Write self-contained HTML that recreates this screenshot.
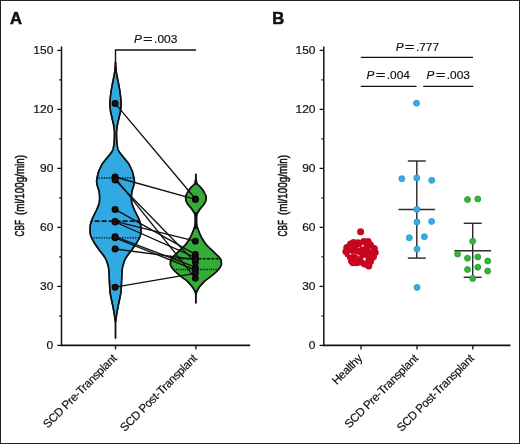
<!DOCTYPE html>
<html><head><meta charset="utf-8"><style>
html,body{margin:0;padding:0;background:#fff;}
svg{display:block;will-change:transform;}
text{font-family:"Liberation Sans",sans-serif;fill:#111;stroke:#111;stroke-width:0.18px;}
</style></head><body>
<svg width="520" height="444" viewBox="0 0 520 444">
<rect x="0" y="0" width="520" height="444" fill="#fff"/>
<rect x="0" y="0" width="520" height="1" fill="#222"/>
<rect x="0" y="443" width="520" height="1" fill="#222"/>
<rect x="0" y="0" width="1" height="444" fill="#222"/>
<rect x="519" y="0" width="1" height="444" fill="#222"/>
<text x="9.9" y="23.8" font-size="16.6" font-weight="bold" style="stroke-width:0.55px">A</text>
<text x="272.3" y="23.8" font-size="16.6" font-weight="bold" style="stroke-width:0.55px">B</text>
<line x1="61.50" y1="46.5" x2="61.50" y2="345.8" stroke="#111" stroke-width="1.5"/>
<line x1="57.30" y1="345.40" x2="61.50" y2="345.40" stroke="#111" stroke-width="1.3"/>
<text transform="translate(53.30,349.30) scale(1.09,1)" font-size="11" text-anchor="end">0</text>
<line x1="57.30" y1="286.40" x2="61.50" y2="286.40" stroke="#111" stroke-width="1.3"/>
<text transform="translate(53.30,290.30) scale(1.09,1)" font-size="11" text-anchor="end">30</text>
<line x1="57.30" y1="227.40" x2="61.50" y2="227.40" stroke="#111" stroke-width="1.3"/>
<text transform="translate(53.30,231.30) scale(1.09,1)" font-size="11" text-anchor="end">60</text>
<line x1="57.30" y1="168.40" x2="61.50" y2="168.40" stroke="#111" stroke-width="1.3"/>
<text transform="translate(53.30,172.30) scale(1.09,1)" font-size="11" text-anchor="end">90</text>
<line x1="57.30" y1="109.40" x2="61.50" y2="109.40" stroke="#111" stroke-width="1.3"/>
<text transform="translate(53.30,113.30) scale(1.09,1)" font-size="11" text-anchor="end">120</text>
<line x1="57.30" y1="50.40" x2="61.50" y2="50.40" stroke="#111" stroke-width="1.3"/>
<text transform="translate(53.30,54.30) scale(1.09,1)" font-size="11" text-anchor="end">150</text>
<line x1="59.00" y1="315.90" x2="61.50" y2="315.90" stroke="#111" stroke-width="1.1"/>
<line x1="59.00" y1="256.90" x2="61.50" y2="256.90" stroke="#111" stroke-width="1.1"/>
<line x1="59.00" y1="197.90" x2="61.50" y2="197.90" stroke="#111" stroke-width="1.1"/>
<line x1="59.00" y1="138.90" x2="61.50" y2="138.90" stroke="#111" stroke-width="1.1"/>
<line x1="59.00" y1="79.90" x2="61.50" y2="79.90" stroke="#111" stroke-width="1.1"/>
<line x1="323.80" y1="46.5" x2="323.80" y2="345.8" stroke="#111" stroke-width="1.5"/>
<line x1="319.60" y1="345.40" x2="323.80" y2="345.40" stroke="#111" stroke-width="1.3"/>
<text transform="translate(315.50,349.30) scale(1.09,1)" font-size="11" text-anchor="end">0</text>
<line x1="319.60" y1="286.40" x2="323.80" y2="286.40" stroke="#111" stroke-width="1.3"/>
<text transform="translate(315.50,290.30) scale(1.09,1)" font-size="11" text-anchor="end">30</text>
<line x1="319.60" y1="227.40" x2="323.80" y2="227.40" stroke="#111" stroke-width="1.3"/>
<text transform="translate(315.50,231.30) scale(1.09,1)" font-size="11" text-anchor="end">60</text>
<line x1="319.60" y1="168.40" x2="323.80" y2="168.40" stroke="#111" stroke-width="1.3"/>
<text transform="translate(315.50,172.30) scale(1.09,1)" font-size="11" text-anchor="end">90</text>
<line x1="319.60" y1="109.40" x2="323.80" y2="109.40" stroke="#111" stroke-width="1.3"/>
<text transform="translate(315.50,113.30) scale(1.09,1)" font-size="11" text-anchor="end">120</text>
<line x1="319.60" y1="50.40" x2="323.80" y2="50.40" stroke="#111" stroke-width="1.3"/>
<text transform="translate(315.50,54.30) scale(1.09,1)" font-size="11" text-anchor="end">150</text>
<line x1="321.30" y1="315.90" x2="323.80" y2="315.90" stroke="#111" stroke-width="1.1"/>
<line x1="321.30" y1="256.90" x2="323.80" y2="256.90" stroke="#111" stroke-width="1.1"/>
<line x1="321.30" y1="197.90" x2="323.80" y2="197.90" stroke="#111" stroke-width="1.1"/>
<line x1="321.30" y1="138.90" x2="323.80" y2="138.90" stroke="#111" stroke-width="1.1"/>
<line x1="321.30" y1="79.90" x2="323.80" y2="79.90" stroke="#111" stroke-width="1.1"/>
<line x1="60.7" y1="345.35" x2="250.2" y2="345.35" stroke="#111" stroke-width="1.7"/>
<line x1="323.0" y1="345.35" x2="510.5" y2="345.35" stroke="#111" stroke-width="1.7"/>
<line x1="115.50" y1="345" x2="115.50" y2="349.5" stroke="#111" stroke-width="1.3"/>
<line x1="195.90" y1="345" x2="195.90" y2="349.5" stroke="#111" stroke-width="1.3"/>
<line x1="361.00" y1="345" x2="361.00" y2="349.5" stroke="#111" stroke-width="1.3"/>
<line x1="417.00" y1="345" x2="417.00" y2="349.5" stroke="#111" stroke-width="1.3"/>
<line x1="472.80" y1="345" x2="472.80" y2="349.5" stroke="#111" stroke-width="1.3"/>
<g transform="translate(24.40,236.40) rotate(-90)" stroke="#111" stroke-width="0.4"><text x="0" y="0" font-size="13.5" textLength="16.3" lengthAdjust="spacingAndGlyphs" style="stroke-width:0.55px">CBF</text><text x="21.4" y="0" font-size="13.5" textLength="60.0" lengthAdjust="spacingAndGlyphs" style="stroke-width:0.55px">(ml/100g/min)</text></g>
<g transform="translate(286.80,236.40) rotate(-90)" stroke="#111" stroke-width="0.4"><text x="0" y="0" font-size="13.5" textLength="16.3" lengthAdjust="spacingAndGlyphs" style="stroke-width:0.55px">CBF</text><text x="21.4" y="0" font-size="13.5" textLength="60.0" lengthAdjust="spacingAndGlyphs" style="stroke-width:0.55px">(ml/100g/min)</text></g>
<text transform="translate(117.50,359.00) rotate(-45)" font-size="11.6" text-anchor="end" textLength="98.6" lengthAdjust="spacing">SCD Pre-Transplant</text>
<text transform="translate(197.90,359.00) rotate(-45)" font-size="11.6" text-anchor="end" textLength="103.5" lengthAdjust="spacing">SCD Post-Transplant</text>
<text transform="translate(363.00,359.00) rotate(-45)" font-size="11.6" text-anchor="end" textLength="37.3" lengthAdjust="spacing">Healthy</text>
<text transform="translate(419.00,359.00) rotate(-45)" font-size="11.6" text-anchor="end" textLength="98.6" lengthAdjust="spacing">SCD Pre-Transplant</text>
<text transform="translate(474.80,359.00) rotate(-45)" font-size="11.6" text-anchor="end" textLength="103.5" lengthAdjust="spacing">SCD Post-Transplant</text>
<polyline points="115.5,64 115.5,50.0 196,50.0" fill="none" stroke="#111" stroke-width="1.4"/>
<text x="133.90" y="42.50" font-size="11.7" font-style="italic">P</text><text transform="translate(147.80,42.50) scale(1.42,1)" font-size="11.7" text-anchor="middle">=</text><text transform="translate(154.10,42.50) scale(1.02,1)" font-size="11.7">.003</text>
<line x1="360.8" y1="57.4" x2="473" y2="57.4" stroke="#111" stroke-width="1.4"/>
<line x1="360.8" y1="86.4" x2="416.5" y2="86.4" stroke="#111" stroke-width="1.4"/>
<line x1="423.2" y1="86.4" x2="473.3" y2="86.4" stroke="#111" stroke-width="1.4"/>
<text x="395.70" y="50.50" font-size="11.7" font-style="italic">P</text><text transform="translate(409.60,50.50) scale(1.42,1)" font-size="11.7" text-anchor="middle">=</text><text transform="translate(415.90,50.50) scale(1.02,1)" font-size="11.7">.777</text>
<text x="366.60" y="79.10" font-size="11.7" font-style="italic">P</text><text transform="translate(380.50,79.10) scale(1.42,1)" font-size="11.7" text-anchor="middle">=</text><text transform="translate(386.80,79.10) scale(1.02,1)" font-size="11.7">.004</text>
<text x="426.60" y="79.10" font-size="11.7" font-style="italic">P</text><text transform="translate(440.50,79.10) scale(1.42,1)" font-size="11.7" text-anchor="middle">=</text><text transform="translate(446.80,79.10) scale(1.02,1)" font-size="11.7">.003</text>
<path d="M115.50,62.00 L115.53,62.50 L115.55,63.00 L115.58,63.50 L115.61,64.00 L115.65,64.50 L115.68,65.00 L115.71,65.50 L115.75,66.00 L115.79,66.50 L115.83,67.00 L115.87,67.50 L115.91,68.00 L115.95,68.50 L116.00,69.00 L116.05,69.50 L116.10,70.00 L116.16,70.50 L116.22,71.00 L116.28,71.50 L116.35,72.00 L116.42,72.50 L116.50,73.00 L116.57,73.50 L116.65,74.00 L116.73,74.50 L116.82,75.00 L116.90,75.50 L116.99,76.00 L117.09,76.50 L117.19,77.00 L117.29,77.50 L117.39,78.00 L117.49,78.50 L117.60,79.00 L117.70,79.50 L117.80,80.00 L117.90,80.50 L118.00,81.00 L118.10,81.50 L118.20,82.00 L118.31,82.50 L118.41,83.00 L118.51,83.50 L118.61,84.00 L118.70,84.50 L118.80,85.00 L118.90,85.50 L118.99,86.00 L119.09,86.50 L119.18,87.00 L119.27,87.50 L119.36,88.00 L119.45,88.50 L119.54,89.00 L119.62,89.50 L119.70,90.00 L119.78,90.50 L119.85,91.00 L119.93,91.50 L120.00,92.00 L120.07,92.50 L120.14,93.00 L120.21,93.50 L120.28,94.00 L120.34,94.50 L120.41,95.00 L120.46,95.50 L120.52,96.00 L120.57,96.50 L120.62,97.00 L120.67,97.50 L120.72,98.00 L120.77,98.50 L120.82,99.00 L120.87,99.50 L120.92,100.00 L120.96,100.50 L121.00,101.00 L121.03,101.50 L121.06,102.00 L121.08,102.50 L121.10,103.00 L121.10,103.50 L121.10,104.00 L121.08,104.50 L121.07,105.00 L121.04,105.50 L121.01,106.00 L120.97,106.50 L120.93,107.00 L120.89,107.50 L120.84,108.00 L120.79,108.50 L120.74,109.00 L120.69,109.50 L120.63,110.00 L120.58,110.50 L120.51,111.00 L120.43,111.50 L120.34,112.00 L120.25,112.50 L120.14,113.00 L120.03,113.50 L119.91,114.00 L119.79,114.50 L119.67,115.00 L119.55,115.50 L119.43,116.00 L119.31,116.50 L119.20,117.00 L119.09,117.50 L118.97,118.00 L118.85,118.50 L118.73,119.00 L118.61,119.50 L118.50,120.00 L118.39,120.50 L118.27,121.00 L118.16,121.50 L118.04,122.00 L117.92,122.50 L117.81,123.00 L117.70,123.50 L117.59,124.00 L117.48,124.50 L117.39,125.00 L117.30,125.50 L117.21,126.00 L117.14,126.50 L117.07,127.00 L117.01,127.50 L116.95,128.00 L116.89,128.50 L116.82,129.00 L116.77,129.50 L116.71,130.00 L116.66,130.50 L116.62,131.00 L116.58,131.50 L116.54,132.00 L116.52,132.50 L116.51,133.00 L116.50,133.50 L116.50,134.00 L116.51,134.50 L116.51,135.00 L116.52,135.50 L116.53,136.00 L116.55,136.50 L116.56,137.00 L116.58,137.50 L116.60,138.00 L116.62,138.50 L116.64,139.00 L116.66,139.50 L116.69,140.00 L116.71,140.50 L116.74,141.00 L116.78,141.50 L116.82,142.00 L116.87,142.50 L116.92,143.00 L116.98,143.50 L117.05,144.00 L117.11,144.50 L117.19,145.00 L117.26,145.50 L117.34,146.00 L117.42,146.50 L117.50,147.00 L117.59,147.50 L117.68,148.00 L117.78,148.50 L117.90,149.00 L118.04,149.50 L118.20,150.00 L118.41,150.50 L118.68,151.00 L119.00,151.50 L119.36,152.00 L119.73,152.50 L120.11,153.00 L120.47,153.50 L120.84,154.00 L121.23,154.50 L121.63,155.00 L122.04,155.50 L122.45,156.00 L122.86,156.50 L123.26,157.00 L123.67,157.50 L124.08,158.00 L124.49,158.50 L124.90,159.00 L125.31,159.50 L125.72,160.00 L126.13,160.50 L126.55,161.00 L126.97,161.50 L127.39,162.00 L127.79,162.50 L128.16,163.00 L128.50,163.50 L128.81,164.00 L129.09,164.50 L129.36,165.00 L129.61,165.50 L129.86,166.00 L130.10,166.50 L130.35,167.00 L130.60,167.50 L130.85,168.00 L131.10,168.50 L131.34,169.00 L131.57,169.50 L131.78,170.00 L131.98,170.50 L132.17,171.00 L132.35,171.50 L132.52,172.00 L132.69,172.50 L132.84,173.00 L132.97,173.50 L133.10,174.00 L133.21,174.50 L133.31,175.00 L133.41,175.50 L133.51,176.00 L133.60,176.50 L133.70,177.00 L133.81,177.50 L133.92,178.00 L134.04,178.50 L134.15,179.00 L134.24,179.50 L134.30,180.00 L134.35,180.50 L134.39,181.00 L134.40,181.50 L134.38,182.00 L134.32,182.50 L134.25,183.00 L134.16,183.50 L134.06,184.00 L133.96,184.50 L133.86,185.00 L133.73,185.50 L133.59,186.00 L133.42,186.50 L133.26,187.00 L133.09,187.50 L132.93,188.00 L132.78,188.50 L132.61,189.00 L132.44,189.50 L132.28,190.00 L132.13,190.50 L132.00,191.00 L131.90,191.50 L131.82,192.00 L131.74,192.50 L131.67,193.00 L131.61,193.50 L131.56,194.00 L131.52,194.50 L131.50,195.00 L131.47,195.50 L131.45,196.00 L131.43,196.50 L131.42,197.00 L131.41,197.50 L131.40,198.00 L131.40,198.50 L131.41,199.00 L131.43,199.50 L131.46,200.00 L131.50,200.50 L131.54,201.00 L131.59,201.50 L131.65,202.00 L131.75,202.50 L131.87,203.00 L132.02,203.50 L132.18,204.00 L132.34,204.50 L132.50,205.00 L132.66,205.50 L132.83,206.00 L133.01,206.50 L133.20,207.00 L133.40,207.50 L133.60,208.00 L133.81,208.50 L134.03,209.00 L134.24,209.50 L134.48,210.00 L134.72,210.50 L134.98,211.00 L135.23,211.50 L135.49,212.00 L135.75,212.50 L136.00,213.00 L136.25,213.50 L136.49,214.00 L136.74,214.50 L136.98,215.00 L137.22,215.50 L137.45,216.00 L137.69,216.50 L137.92,217.00 L138.14,217.50 L138.37,218.00 L138.59,218.50 L138.80,219.00 L139.00,219.50 L139.20,220.00 L139.40,220.50 L139.59,221.00 L139.78,221.50 L139.95,222.00 L140.10,222.50 L140.22,223.00 L140.34,223.50 L140.45,224.00 L140.56,224.50 L140.65,225.00 L140.73,225.50 L140.78,226.00 L140.81,226.50 L140.83,227.00 L140.86,227.50 L140.87,228.00 L140.89,228.50 L140.90,229.00 L140.90,229.50 L140.90,230.00 L140.89,230.50 L140.88,231.00 L140.87,231.50 L140.85,232.00 L140.83,232.50 L140.80,233.00 L140.75,233.50 L140.67,234.00 L140.56,234.50 L140.43,235.00 L140.30,235.50 L140.15,236.00 L139.97,236.50 L139.77,237.00 L139.56,237.50 L139.34,238.00 L139.10,238.50 L138.86,239.00 L138.60,239.50 L138.33,240.00 L138.06,240.50 L137.79,241.00 L137.51,241.50 L137.21,242.00 L136.91,242.50 L136.60,243.00 L136.29,243.50 L135.97,244.00 L135.63,244.50 L135.29,245.00 L134.94,245.50 L134.58,246.00 L134.22,246.50 L133.86,247.00 L133.50,247.50 L133.15,248.00 L132.80,248.50 L132.46,249.00 L132.11,249.50 L131.76,250.00 L131.40,250.50 L131.02,251.00 L130.64,251.50 L130.24,252.00 L129.83,252.50 L129.42,253.00 L129.02,253.50 L128.63,254.00 L128.25,254.50 L127.88,255.00 L127.51,255.50 L127.15,256.00 L126.80,256.50 L126.47,257.00 L126.16,257.50 L125.87,258.00 L125.59,258.50 L125.33,259.00 L125.07,259.50 L124.83,260.00 L124.61,260.50 L124.40,261.00 L124.21,261.50 L124.03,262.00 L123.86,262.50 L123.70,263.00 L123.55,263.50 L123.40,264.00 L123.25,264.50 L123.10,265.00 L122.95,265.50 L122.81,266.00 L122.69,266.50 L122.60,267.00 L122.53,267.50 L122.45,268.00 L122.39,268.50 L122.33,269.00 L122.27,269.50 L122.22,270.00 L122.17,270.50 L122.12,271.00 L122.08,271.50 L122.04,272.00 L122.00,272.50 L121.96,273.00 L121.93,273.50 L121.90,274.00 L121.87,274.50 L121.84,275.00 L121.82,275.50 L121.80,276.00 L121.78,276.50 L121.76,277.00 L121.74,277.50 L121.72,278.00 L121.70,278.50 L121.68,279.00 L121.66,279.50 L121.64,280.00 L121.62,280.50 L121.60,281.00 L121.58,281.50 L121.55,282.00 L121.53,282.50 L121.51,283.00 L121.48,283.50 L121.46,284.00 L121.44,284.50 L121.41,285.00 L121.39,285.50 L121.37,286.00 L121.34,286.50 L121.32,287.00 L121.30,287.50 L121.28,288.00 L121.26,288.50 L121.25,289.00 L121.23,289.50 L121.20,290.00 L121.16,290.50 L121.12,291.00 L121.06,291.50 L120.99,292.00 L120.91,292.50 L120.83,293.00 L120.74,293.50 L120.64,294.00 L120.55,294.50 L120.45,295.00 L120.35,295.50 L120.25,296.00 L120.16,296.50 L120.06,297.00 L119.97,297.50 L119.87,298.00 L119.77,298.50 L119.66,299.00 L119.56,299.50 L119.45,300.00 L119.34,300.50 L119.23,301.00 L119.12,301.50 L119.01,302.00 L118.91,302.50 L118.80,303.00 L118.70,303.50 L118.60,304.00 L118.50,304.50 L118.40,305.00 L118.30,305.50 L118.21,306.00 L118.11,306.50 L118.01,307.00 L117.92,307.50 L117.82,308.00 L117.73,308.50 L117.63,309.00 L117.54,309.50 L117.45,310.00 L117.36,310.50 L117.28,311.00 L117.19,311.50 L117.11,312.00 L117.03,312.50 L116.95,313.00 L116.86,313.50 L116.78,314.00 L116.70,314.50 L116.62,315.00 L116.54,315.50 L116.46,316.00 L116.38,316.50 L116.30,317.00 L116.22,317.50 L116.13,318.00 L116.05,318.50 L115.96,319.00 L115.88,319.50 L115.80,320.00 L115.72,320.50 L115.65,321.00 L115.57,321.50 L115.50,322.00 L115.50,322.00 L115.43,321.50 L115.35,321.00 L115.28,320.50 L115.20,320.00 L115.12,319.50 L115.04,319.00 L114.95,318.50 L114.87,318.00 L114.78,317.50 L114.70,317.00 L114.62,316.50 L114.54,316.00 L114.46,315.50 L114.38,315.00 L114.30,314.50 L114.22,314.00 L114.14,313.50 L114.05,313.00 L113.97,312.50 L113.89,312.00 L113.81,311.50 L113.72,311.00 L113.64,310.50 L113.55,310.00 L113.46,309.50 L113.37,309.00 L113.27,308.50 L113.18,308.00 L113.08,307.50 L112.99,307.00 L112.89,306.50 L112.79,306.00 L112.70,305.50 L112.60,305.00 L112.50,304.50 L112.40,304.00 L112.30,303.50 L112.20,303.00 L112.09,302.50 L111.99,302.00 L111.88,301.50 L111.77,301.00 L111.66,300.50 L111.55,300.00 L111.44,299.50 L111.34,299.00 L111.23,298.50 L111.13,298.00 L111.03,297.50 L110.94,297.00 L110.84,296.50 L110.75,296.00 L110.65,295.50 L110.55,295.00 L110.45,294.50 L110.36,294.00 L110.26,293.50 L110.17,293.00 L110.09,292.50 L110.01,292.00 L109.94,291.50 L109.88,291.00 L109.84,290.50 L109.80,290.00 L109.77,289.50 L109.75,289.00 L109.74,288.50 L109.72,288.00 L109.70,287.50 L109.68,287.00 L109.66,286.50 L109.63,286.00 L109.61,285.50 L109.59,285.00 L109.56,284.50 L109.54,284.00 L109.52,283.50 L109.49,283.00 L109.47,282.50 L109.45,282.00 L109.42,281.50 L109.40,281.00 L109.38,280.50 L109.36,280.00 L109.34,279.50 L109.32,279.00 L109.30,278.50 L109.28,278.00 L109.26,277.50 L109.24,277.00 L109.22,276.50 L109.20,276.00 L109.18,275.50 L109.16,275.00 L109.13,274.50 L109.10,274.00 L109.07,273.50 L109.04,273.00 L109.00,272.50 L108.96,272.00 L108.92,271.50 L108.88,271.00 L108.83,270.50 L108.78,270.00 L108.73,269.50 L108.67,269.00 L108.61,268.50 L108.55,268.00 L108.47,267.50 L108.40,267.00 L108.31,266.50 L108.19,266.00 L108.05,265.50 L107.90,265.00 L107.75,264.50 L107.60,264.00 L107.45,263.50 L107.30,263.00 L107.14,262.50 L106.97,262.00 L106.79,261.50 L106.60,261.00 L106.39,260.50 L106.17,260.00 L105.93,259.50 L105.67,259.00 L105.41,258.50 L105.13,258.00 L104.84,257.50 L104.53,257.00 L104.20,256.50 L103.85,256.00 L103.49,255.50 L103.12,255.00 L102.75,254.50 L102.37,254.00 L101.98,253.50 L101.58,253.00 L101.17,252.50 L100.76,252.00 L100.36,251.50 L99.98,251.00 L99.60,250.50 L99.24,250.00 L98.89,249.50 L98.54,249.00 L98.20,248.50 L97.85,248.00 L97.50,247.50 L97.14,247.00 L96.78,246.50 L96.42,246.00 L96.06,245.50 L95.71,245.00 L95.37,244.50 L95.03,244.00 L94.71,243.50 L94.40,243.00 L94.09,242.50 L93.79,242.00 L93.49,241.50 L93.21,241.00 L92.94,240.50 L92.67,240.00 L92.40,239.50 L92.14,239.00 L91.90,238.50 L91.66,238.00 L91.44,237.50 L91.23,237.00 L91.03,236.50 L90.85,236.00 L90.70,235.50 L90.57,235.00 L90.44,234.50 L90.33,234.00 L90.25,233.50 L90.20,233.00 L90.17,232.50 L90.15,232.00 L90.13,231.50 L90.12,231.00 L90.11,230.50 L90.10,230.00 L90.10,229.50 L90.10,229.00 L90.11,228.50 L90.13,228.00 L90.14,227.50 L90.17,227.00 L90.19,226.50 L90.22,226.00 L90.27,225.50 L90.35,225.00 L90.44,224.50 L90.55,224.00 L90.66,223.50 L90.78,223.00 L90.90,222.50 L91.05,222.00 L91.22,221.50 L91.41,221.00 L91.60,220.50 L91.80,220.00 L92.00,219.50 L92.20,219.00 L92.41,218.50 L92.63,218.00 L92.86,217.50 L93.08,217.00 L93.31,216.50 L93.55,216.00 L93.78,215.50 L94.02,215.00 L94.26,214.50 L94.51,214.00 L94.75,213.50 L95.00,213.00 L95.25,212.50 L95.51,212.00 L95.77,211.50 L96.02,211.00 L96.28,210.50 L96.52,210.00 L96.76,209.50 L96.97,209.00 L97.19,208.50 L97.40,208.00 L97.60,207.50 L97.80,207.00 L97.99,206.50 L98.17,206.00 L98.34,205.50 L98.50,205.00 L98.66,204.50 L98.82,204.00 L98.98,203.50 L99.13,203.00 L99.25,202.50 L99.35,202.00 L99.41,201.50 L99.46,201.00 L99.50,200.50 L99.54,200.00 L99.57,199.50 L99.59,199.00 L99.60,198.50 L99.60,198.00 L99.59,197.50 L99.58,197.00 L99.57,196.50 L99.55,196.00 L99.53,195.50 L99.50,195.00 L99.48,194.50 L99.44,194.00 L99.39,193.50 L99.33,193.00 L99.26,192.50 L99.18,192.00 L99.10,191.50 L99.00,191.00 L98.87,190.50 L98.72,190.00 L98.56,189.50 L98.39,189.00 L98.22,188.50 L98.07,188.00 L97.91,187.50 L97.74,187.00 L97.58,186.50 L97.41,186.00 L97.27,185.50 L97.14,185.00 L97.04,184.50 L96.94,184.00 L96.84,183.50 L96.75,183.00 L96.68,182.50 L96.62,182.00 L96.60,181.50 L96.61,181.00 L96.65,180.50 L96.70,180.00 L96.76,179.50 L96.85,179.00 L96.96,178.50 L97.08,178.00 L97.19,177.50 L97.30,177.00 L97.40,176.50 L97.49,176.00 L97.59,175.50 L97.69,175.00 L97.79,174.50 L97.90,174.00 L98.03,173.50 L98.16,173.00 L98.31,172.50 L98.48,172.00 L98.65,171.50 L98.83,171.00 L99.02,170.50 L99.22,170.00 L99.43,169.50 L99.66,169.00 L99.90,168.50 L100.15,168.00 L100.40,167.50 L100.65,167.00 L100.90,166.50 L101.14,166.00 L101.39,165.50 L101.64,165.00 L101.91,164.50 L102.19,164.00 L102.50,163.50 L102.84,163.00 L103.21,162.50 L103.61,162.00 L104.03,161.50 L104.45,161.00 L104.87,160.50 L105.28,160.00 L105.69,159.50 L106.10,159.00 L106.51,158.50 L106.92,158.00 L107.33,157.50 L107.74,157.00 L108.14,156.50 L108.55,156.00 L108.96,155.50 L109.37,155.00 L109.77,154.50 L110.16,154.00 L110.53,153.50 L110.89,153.00 L111.27,152.50 L111.64,152.00 L112.00,151.50 L112.32,151.00 L112.59,150.50 L112.80,150.00 L112.96,149.50 L113.10,149.00 L113.22,148.50 L113.32,148.00 L113.41,147.50 L113.50,147.00 L113.58,146.50 L113.66,146.00 L113.74,145.50 L113.81,145.00 L113.89,144.50 L113.95,144.00 L114.02,143.50 L114.08,143.00 L114.13,142.50 L114.18,142.00 L114.22,141.50 L114.26,141.00 L114.29,140.50 L114.31,140.00 L114.34,139.50 L114.36,139.00 L114.38,138.50 L114.40,138.00 L114.42,137.50 L114.44,137.00 L114.45,136.50 L114.47,136.00 L114.48,135.50 L114.49,135.00 L114.49,134.50 L114.50,134.00 L114.50,133.50 L114.49,133.00 L114.48,132.50 L114.46,132.00 L114.42,131.50 L114.38,131.00 L114.34,130.50 L114.29,130.00 L114.23,129.50 L114.18,129.00 L114.11,128.50 L114.05,128.00 L113.99,127.50 L113.93,127.00 L113.86,126.50 L113.79,126.00 L113.70,125.50 L113.61,125.00 L113.52,124.50 L113.41,124.00 L113.30,123.50 L113.19,123.00 L113.08,122.50 L112.96,122.00 L112.84,121.50 L112.73,121.00 L112.61,120.50 L112.50,120.00 L112.39,119.50 L112.27,119.00 L112.15,118.50 L112.03,118.00 L111.91,117.50 L111.80,117.00 L111.69,116.50 L111.57,116.00 L111.45,115.50 L111.33,115.00 L111.21,114.50 L111.09,114.00 L110.97,113.50 L110.86,113.00 L110.75,112.50 L110.66,112.00 L110.57,111.50 L110.49,111.00 L110.42,110.50 L110.37,110.00 L110.31,109.50 L110.26,109.00 L110.21,108.50 L110.16,108.00 L110.11,107.50 L110.07,107.00 L110.03,106.50 L109.99,106.00 L109.96,105.50 L109.93,105.00 L109.92,104.50 L109.90,104.00 L109.90,103.50 L109.90,103.00 L109.92,102.50 L109.94,102.00 L109.97,101.50 L110.00,101.00 L110.04,100.50 L110.08,100.00 L110.13,99.50 L110.18,99.00 L110.23,98.50 L110.28,98.00 L110.33,97.50 L110.38,97.00 L110.43,96.50 L110.48,96.00 L110.54,95.50 L110.59,95.00 L110.66,94.50 L110.72,94.00 L110.79,93.50 L110.86,93.00 L110.93,92.50 L111.00,92.00 L111.07,91.50 L111.15,91.00 L111.22,90.50 L111.30,90.00 L111.38,89.50 L111.46,89.00 L111.55,88.50 L111.64,88.00 L111.73,87.50 L111.82,87.00 L111.91,86.50 L112.01,86.00 L112.10,85.50 L112.20,85.00 L112.30,84.50 L112.39,84.00 L112.49,83.50 L112.59,83.00 L112.69,82.50 L112.80,82.00 L112.90,81.50 L113.00,81.00 L113.10,80.50 L113.20,80.00 L113.30,79.50 L113.40,79.00 L113.51,78.50 L113.61,78.00 L113.71,77.50 L113.81,77.00 L113.91,76.50 L114.01,76.00 L114.10,75.50 L114.18,75.00 L114.27,74.50 L114.35,74.00 L114.43,73.50 L114.50,73.00 L114.58,72.50 L114.65,72.00 L114.72,71.50 L114.78,71.00 L114.84,70.50 L114.90,70.00 L114.95,69.50 L115.00,69.00 L115.05,68.50 L115.09,68.00 L115.13,67.50 L115.17,67.00 L115.21,66.50 L115.25,66.00 L115.29,65.50 L115.32,65.00 L115.35,64.50 L115.39,64.00 L115.42,63.50 L115.45,63.00 L115.47,62.50 L115.50,62.00 Z" fill="#31a9e2" stroke="#111" stroke-width="1.5" stroke-linejoin="round"/>
<line x1="115.50" y1="318" x2="115.50" y2="338.0" stroke="#111" stroke-width="1.8" stroke-linecap="round"/>
<path d="M195.90,179.00 L196.03,179.50 L196.16,180.00 L196.29,180.50 L196.40,181.00 L196.50,181.50 L196.58,182.00 L196.67,182.50 L196.80,183.00 L197.00,183.50 L197.29,184.00 L197.67,184.50 L198.22,185.00 L198.80,185.50 L199.32,186.00 L199.84,186.50 L200.33,187.00 L200.80,187.50 L201.24,188.00 L201.66,188.50 L202.05,189.00 L202.43,189.50 L202.78,190.00 L203.12,190.50 L203.44,191.00 L203.74,191.50 L204.02,192.00 L204.27,192.50 L204.51,193.00 L204.75,193.50 L205.00,194.00 L205.27,194.50 L205.53,195.00 L205.75,195.50 L205.90,196.00 L206.01,196.50 L206.11,197.00 L206.17,197.50 L206.20,198.00 L206.18,198.50 L206.12,199.00 L206.02,199.50 L205.91,200.00 L205.77,200.50 L205.62,201.00 L205.47,201.50 L205.27,202.00 L205.02,202.50 L204.72,203.00 L204.40,203.50 L204.06,204.00 L203.71,204.50 L203.36,205.00 L202.98,205.50 L202.57,206.00 L202.14,206.50 L201.70,207.00 L201.28,207.50 L200.88,208.00 L200.50,208.50 L200.12,209.00 L199.75,209.50 L199.39,210.00 L199.04,210.50 L198.71,211.00 L198.40,211.50 L198.10,212.00 L197.81,212.50 L197.53,213.00 L197.29,213.50 L197.10,214.00 L196.93,214.50 L196.78,215.00 L196.66,215.50 L196.60,216.00 L196.58,216.50 L196.56,217.00 L196.54,217.50 L196.53,218.00 L196.51,218.50 L196.51,219.00 L196.50,219.50 L196.50,220.00 L196.50,220.50 L196.51,221.00 L196.51,221.50 L196.53,222.00 L196.54,222.50 L196.56,223.00 L196.58,223.50 L196.60,224.00 L196.65,224.50 L196.74,225.00 L196.86,225.50 L197.00,226.00 L197.13,226.50 L197.26,227.00 L197.41,227.50 L197.57,228.00 L197.74,228.50 L197.92,229.00 L198.11,229.50 L198.29,230.00 L198.48,230.50 L198.68,231.00 L198.87,231.50 L199.07,232.00 L199.27,232.50 L199.48,233.00 L199.69,233.50 L199.91,234.00 L200.13,234.50 L200.36,235.00 L200.60,235.50 L200.84,236.00 L201.09,236.50 L201.34,237.00 L201.60,237.50 L201.87,238.00 L202.14,238.50 L202.43,239.00 L202.72,239.50 L203.02,240.00 L203.32,240.50 L203.64,241.00 L203.97,241.50 L204.31,242.00 L204.65,242.50 L205.01,243.00 L205.38,243.50 L205.77,244.00 L206.16,244.50 L206.59,245.00 L207.04,245.50 L207.52,246.00 L208.01,246.50 L208.53,247.00 L209.06,247.50 L209.60,248.00 L210.14,248.50 L210.68,249.00 L211.23,249.50 L211.76,250.00 L212.29,250.50 L212.80,251.00 L213.30,251.50 L213.80,252.00 L214.30,252.50 L214.80,253.00 L215.30,253.50 L215.80,254.00 L216.32,254.50 L216.85,255.00 L217.40,255.50 L217.93,256.00 L218.43,256.50 L218.88,257.00 L219.27,257.50 L219.66,258.00 L220.04,258.50 L220.40,259.00 L220.72,259.50 L220.98,260.00 L221.15,260.50 L221.22,261.00 L221.27,261.50 L221.31,262.00 L221.35,262.50 L221.37,263.00 L221.39,263.50 L221.40,264.00 L221.37,264.50 L221.24,265.00 L221.04,265.50 L220.78,266.00 L220.50,266.50 L220.19,267.00 L219.90,267.50 L219.59,268.00 L219.24,268.50 L218.86,269.00 L218.45,269.50 L218.01,270.00 L217.57,270.50 L217.11,271.00 L216.62,271.50 L216.11,272.00 L215.56,272.50 L215.00,273.00 L214.43,273.50 L213.85,274.00 L213.27,274.50 L212.67,275.00 L212.06,275.50 L211.44,276.00 L210.80,276.50 L210.17,277.00 L209.53,277.50 L208.88,278.00 L208.20,278.50 L207.50,279.00 L206.80,279.50 L206.12,280.00 L205.46,280.50 L204.85,281.00 L204.29,281.50 L203.78,282.00 L203.30,282.50 L202.85,283.00 L202.41,283.50 L201.98,284.00 L201.56,284.50 L201.13,285.00 L200.69,285.50 L200.24,286.00 L199.81,286.50 L199.39,287.00 L199.01,287.50 L198.66,288.00 L198.36,288.50 L198.08,289.00 L197.82,289.50 L197.58,290.00 L197.34,290.50 L197.12,291.00 L196.90,291.50 L196.68,292.00 L196.48,292.50 L196.30,293.00 L196.15,293.50 L196.01,294.00 L195.90,294.50 L195.90,294.50 L195.79,294.00 L195.65,293.50 L195.50,293.00 L195.32,292.50 L195.12,292.00 L194.90,291.50 L194.68,291.00 L194.46,290.50 L194.22,290.00 L193.98,289.50 L193.72,289.00 L193.44,288.50 L193.14,288.00 L192.79,287.50 L192.41,287.00 L191.99,286.50 L191.56,286.00 L191.11,285.50 L190.67,285.00 L190.24,284.50 L189.82,284.00 L189.39,283.50 L188.95,283.00 L188.50,282.50 L188.02,282.00 L187.51,281.50 L186.95,281.00 L186.34,280.50 L185.68,280.00 L185.00,279.50 L184.30,279.00 L183.60,278.50 L182.92,278.00 L182.27,277.50 L181.63,277.00 L181.00,276.50 L180.36,276.00 L179.74,275.50 L179.13,275.00 L178.53,274.50 L177.95,274.00 L177.37,273.50 L176.80,273.00 L176.24,272.50 L175.69,272.00 L175.18,271.50 L174.69,271.00 L174.23,270.50 L173.79,270.00 L173.35,269.50 L172.94,269.00 L172.56,268.50 L172.21,268.00 L171.90,267.50 L171.61,267.00 L171.30,266.50 L171.02,266.00 L170.76,265.50 L170.56,265.00 L170.43,264.50 L170.40,264.00 L170.41,263.50 L170.43,263.00 L170.45,262.50 L170.49,262.00 L170.53,261.50 L170.58,261.00 L170.65,260.50 L170.82,260.00 L171.08,259.50 L171.40,259.00 L171.76,258.50 L172.14,258.00 L172.53,257.50 L172.92,257.00 L173.37,256.50 L173.87,256.00 L174.40,255.50 L174.95,255.00 L175.48,254.50 L176.00,254.00 L176.50,253.50 L177.00,253.00 L177.50,252.50 L178.00,252.00 L178.50,251.50 L179.00,251.00 L179.51,250.50 L180.04,250.00 L180.57,249.50 L181.12,249.00 L181.66,248.50 L182.20,248.00 L182.74,247.50 L183.27,247.00 L183.79,246.50 L184.28,246.00 L184.76,245.50 L185.21,245.00 L185.64,244.50 L186.03,244.00 L186.42,243.50 L186.79,243.00 L187.15,242.50 L187.49,242.00 L187.83,241.50 L188.16,241.00 L188.48,240.50 L188.78,240.00 L189.08,239.50 L189.37,239.00 L189.66,238.50 L189.93,238.00 L190.20,237.50 L190.46,237.00 L190.71,236.50 L190.96,236.00 L191.20,235.50 L191.44,235.00 L191.67,234.50 L191.89,234.00 L192.11,233.50 L192.32,233.00 L192.53,232.50 L192.73,232.00 L192.93,231.50 L193.12,231.00 L193.32,230.50 L193.51,230.00 L193.69,229.50 L193.88,229.00 L194.06,228.50 L194.23,228.00 L194.39,227.50 L194.54,227.00 L194.67,226.50 L194.80,226.00 L194.94,225.50 L195.06,225.00 L195.15,224.50 L195.20,224.00 L195.22,223.50 L195.24,223.00 L195.26,222.50 L195.27,222.00 L195.29,221.50 L195.29,221.00 L195.30,220.50 L195.30,220.00 L195.30,219.50 L195.29,219.00 L195.29,218.50 L195.28,218.00 L195.26,217.50 L195.24,217.00 L195.22,216.50 L195.20,216.00 L195.14,215.50 L195.02,215.00 L194.87,214.50 L194.70,214.00 L194.51,213.50 L194.27,213.00 L193.99,212.50 L193.70,212.00 L193.40,211.50 L193.09,211.00 L192.76,210.50 L192.41,210.00 L192.05,209.50 L191.68,209.00 L191.30,208.50 L190.92,208.00 L190.52,207.50 L190.10,207.00 L189.66,206.50 L189.23,206.00 L188.82,205.50 L188.44,205.00 L188.09,204.50 L187.74,204.00 L187.40,203.50 L187.08,203.00 L186.78,202.50 L186.53,202.00 L186.33,201.50 L186.18,201.00 L186.03,200.50 L185.89,200.00 L185.78,199.50 L185.68,199.00 L185.62,198.50 L185.60,198.00 L185.63,197.50 L185.69,197.00 L185.79,196.50 L185.90,196.00 L186.05,195.50 L186.27,195.00 L186.53,194.50 L186.80,194.00 L187.05,193.50 L187.29,193.00 L187.53,192.50 L187.78,192.00 L188.06,191.50 L188.36,191.00 L188.68,190.50 L189.02,190.00 L189.37,189.50 L189.75,189.00 L190.14,188.50 L190.56,188.00 L191.00,187.50 L191.47,187.00 L191.96,186.50 L192.48,186.00 L193.00,185.50 L193.58,185.00 L194.13,184.50 L194.51,184.00 L194.80,183.50 L195.00,183.00 L195.13,182.50 L195.22,182.00 L195.30,181.50 L195.40,181.00 L195.51,180.50 L195.64,180.00 L195.77,179.50 L195.90,179.00 Z" fill="#35ac38" stroke="#111" stroke-width="1.5" stroke-linejoin="round"/>
<line x1="195.90" y1="174.4" x2="195.90" y2="184" stroke="#111" stroke-width="1.9" stroke-linecap="round"/>
<line x1="195.90" y1="212" x2="195.90" y2="229" stroke="#111" stroke-width="1.8"/>
<line x1="195.90" y1="291" x2="195.90" y2="302.8" stroke="#111" stroke-width="1.9" stroke-linecap="round"/>
<clipPath id="cpre"><path d="M115.50,62.00 L115.53,62.50 L115.55,63.00 L115.58,63.50 L115.61,64.00 L115.65,64.50 L115.68,65.00 L115.71,65.50 L115.75,66.00 L115.79,66.50 L115.83,67.00 L115.87,67.50 L115.91,68.00 L115.95,68.50 L116.00,69.00 L116.05,69.50 L116.10,70.00 L116.16,70.50 L116.22,71.00 L116.28,71.50 L116.35,72.00 L116.42,72.50 L116.50,73.00 L116.57,73.50 L116.65,74.00 L116.73,74.50 L116.82,75.00 L116.90,75.50 L116.99,76.00 L117.09,76.50 L117.19,77.00 L117.29,77.50 L117.39,78.00 L117.49,78.50 L117.60,79.00 L117.70,79.50 L117.80,80.00 L117.90,80.50 L118.00,81.00 L118.10,81.50 L118.20,82.00 L118.31,82.50 L118.41,83.00 L118.51,83.50 L118.61,84.00 L118.70,84.50 L118.80,85.00 L118.90,85.50 L118.99,86.00 L119.09,86.50 L119.18,87.00 L119.27,87.50 L119.36,88.00 L119.45,88.50 L119.54,89.00 L119.62,89.50 L119.70,90.00 L119.78,90.50 L119.85,91.00 L119.93,91.50 L120.00,92.00 L120.07,92.50 L120.14,93.00 L120.21,93.50 L120.28,94.00 L120.34,94.50 L120.41,95.00 L120.46,95.50 L120.52,96.00 L120.57,96.50 L120.62,97.00 L120.67,97.50 L120.72,98.00 L120.77,98.50 L120.82,99.00 L120.87,99.50 L120.92,100.00 L120.96,100.50 L121.00,101.00 L121.03,101.50 L121.06,102.00 L121.08,102.50 L121.10,103.00 L121.10,103.50 L121.10,104.00 L121.08,104.50 L121.07,105.00 L121.04,105.50 L121.01,106.00 L120.97,106.50 L120.93,107.00 L120.89,107.50 L120.84,108.00 L120.79,108.50 L120.74,109.00 L120.69,109.50 L120.63,110.00 L120.58,110.50 L120.51,111.00 L120.43,111.50 L120.34,112.00 L120.25,112.50 L120.14,113.00 L120.03,113.50 L119.91,114.00 L119.79,114.50 L119.67,115.00 L119.55,115.50 L119.43,116.00 L119.31,116.50 L119.20,117.00 L119.09,117.50 L118.97,118.00 L118.85,118.50 L118.73,119.00 L118.61,119.50 L118.50,120.00 L118.39,120.50 L118.27,121.00 L118.16,121.50 L118.04,122.00 L117.92,122.50 L117.81,123.00 L117.70,123.50 L117.59,124.00 L117.48,124.50 L117.39,125.00 L117.30,125.50 L117.21,126.00 L117.14,126.50 L117.07,127.00 L117.01,127.50 L116.95,128.00 L116.89,128.50 L116.82,129.00 L116.77,129.50 L116.71,130.00 L116.66,130.50 L116.62,131.00 L116.58,131.50 L116.54,132.00 L116.52,132.50 L116.51,133.00 L116.50,133.50 L116.50,134.00 L116.51,134.50 L116.51,135.00 L116.52,135.50 L116.53,136.00 L116.55,136.50 L116.56,137.00 L116.58,137.50 L116.60,138.00 L116.62,138.50 L116.64,139.00 L116.66,139.50 L116.69,140.00 L116.71,140.50 L116.74,141.00 L116.78,141.50 L116.82,142.00 L116.87,142.50 L116.92,143.00 L116.98,143.50 L117.05,144.00 L117.11,144.50 L117.19,145.00 L117.26,145.50 L117.34,146.00 L117.42,146.50 L117.50,147.00 L117.59,147.50 L117.68,148.00 L117.78,148.50 L117.90,149.00 L118.04,149.50 L118.20,150.00 L118.41,150.50 L118.68,151.00 L119.00,151.50 L119.36,152.00 L119.73,152.50 L120.11,153.00 L120.47,153.50 L120.84,154.00 L121.23,154.50 L121.63,155.00 L122.04,155.50 L122.45,156.00 L122.86,156.50 L123.26,157.00 L123.67,157.50 L124.08,158.00 L124.49,158.50 L124.90,159.00 L125.31,159.50 L125.72,160.00 L126.13,160.50 L126.55,161.00 L126.97,161.50 L127.39,162.00 L127.79,162.50 L128.16,163.00 L128.50,163.50 L128.81,164.00 L129.09,164.50 L129.36,165.00 L129.61,165.50 L129.86,166.00 L130.10,166.50 L130.35,167.00 L130.60,167.50 L130.85,168.00 L131.10,168.50 L131.34,169.00 L131.57,169.50 L131.78,170.00 L131.98,170.50 L132.17,171.00 L132.35,171.50 L132.52,172.00 L132.69,172.50 L132.84,173.00 L132.97,173.50 L133.10,174.00 L133.21,174.50 L133.31,175.00 L133.41,175.50 L133.51,176.00 L133.60,176.50 L133.70,177.00 L133.81,177.50 L133.92,178.00 L134.04,178.50 L134.15,179.00 L134.24,179.50 L134.30,180.00 L134.35,180.50 L134.39,181.00 L134.40,181.50 L134.38,182.00 L134.32,182.50 L134.25,183.00 L134.16,183.50 L134.06,184.00 L133.96,184.50 L133.86,185.00 L133.73,185.50 L133.59,186.00 L133.42,186.50 L133.26,187.00 L133.09,187.50 L132.93,188.00 L132.78,188.50 L132.61,189.00 L132.44,189.50 L132.28,190.00 L132.13,190.50 L132.00,191.00 L131.90,191.50 L131.82,192.00 L131.74,192.50 L131.67,193.00 L131.61,193.50 L131.56,194.00 L131.52,194.50 L131.50,195.00 L131.47,195.50 L131.45,196.00 L131.43,196.50 L131.42,197.00 L131.41,197.50 L131.40,198.00 L131.40,198.50 L131.41,199.00 L131.43,199.50 L131.46,200.00 L131.50,200.50 L131.54,201.00 L131.59,201.50 L131.65,202.00 L131.75,202.50 L131.87,203.00 L132.02,203.50 L132.18,204.00 L132.34,204.50 L132.50,205.00 L132.66,205.50 L132.83,206.00 L133.01,206.50 L133.20,207.00 L133.40,207.50 L133.60,208.00 L133.81,208.50 L134.03,209.00 L134.24,209.50 L134.48,210.00 L134.72,210.50 L134.98,211.00 L135.23,211.50 L135.49,212.00 L135.75,212.50 L136.00,213.00 L136.25,213.50 L136.49,214.00 L136.74,214.50 L136.98,215.00 L137.22,215.50 L137.45,216.00 L137.69,216.50 L137.92,217.00 L138.14,217.50 L138.37,218.00 L138.59,218.50 L138.80,219.00 L139.00,219.50 L139.20,220.00 L139.40,220.50 L139.59,221.00 L139.78,221.50 L139.95,222.00 L140.10,222.50 L140.22,223.00 L140.34,223.50 L140.45,224.00 L140.56,224.50 L140.65,225.00 L140.73,225.50 L140.78,226.00 L140.81,226.50 L140.83,227.00 L140.86,227.50 L140.87,228.00 L140.89,228.50 L140.90,229.00 L140.90,229.50 L140.90,230.00 L140.89,230.50 L140.88,231.00 L140.87,231.50 L140.85,232.00 L140.83,232.50 L140.80,233.00 L140.75,233.50 L140.67,234.00 L140.56,234.50 L140.43,235.00 L140.30,235.50 L140.15,236.00 L139.97,236.50 L139.77,237.00 L139.56,237.50 L139.34,238.00 L139.10,238.50 L138.86,239.00 L138.60,239.50 L138.33,240.00 L138.06,240.50 L137.79,241.00 L137.51,241.50 L137.21,242.00 L136.91,242.50 L136.60,243.00 L136.29,243.50 L135.97,244.00 L135.63,244.50 L135.29,245.00 L134.94,245.50 L134.58,246.00 L134.22,246.50 L133.86,247.00 L133.50,247.50 L133.15,248.00 L132.80,248.50 L132.46,249.00 L132.11,249.50 L131.76,250.00 L131.40,250.50 L131.02,251.00 L130.64,251.50 L130.24,252.00 L129.83,252.50 L129.42,253.00 L129.02,253.50 L128.63,254.00 L128.25,254.50 L127.88,255.00 L127.51,255.50 L127.15,256.00 L126.80,256.50 L126.47,257.00 L126.16,257.50 L125.87,258.00 L125.59,258.50 L125.33,259.00 L125.07,259.50 L124.83,260.00 L124.61,260.50 L124.40,261.00 L124.21,261.50 L124.03,262.00 L123.86,262.50 L123.70,263.00 L123.55,263.50 L123.40,264.00 L123.25,264.50 L123.10,265.00 L122.95,265.50 L122.81,266.00 L122.69,266.50 L122.60,267.00 L122.53,267.50 L122.45,268.00 L122.39,268.50 L122.33,269.00 L122.27,269.50 L122.22,270.00 L122.17,270.50 L122.12,271.00 L122.08,271.50 L122.04,272.00 L122.00,272.50 L121.96,273.00 L121.93,273.50 L121.90,274.00 L121.87,274.50 L121.84,275.00 L121.82,275.50 L121.80,276.00 L121.78,276.50 L121.76,277.00 L121.74,277.50 L121.72,278.00 L121.70,278.50 L121.68,279.00 L121.66,279.50 L121.64,280.00 L121.62,280.50 L121.60,281.00 L121.58,281.50 L121.55,282.00 L121.53,282.50 L121.51,283.00 L121.48,283.50 L121.46,284.00 L121.44,284.50 L121.41,285.00 L121.39,285.50 L121.37,286.00 L121.34,286.50 L121.32,287.00 L121.30,287.50 L121.28,288.00 L121.26,288.50 L121.25,289.00 L121.23,289.50 L121.20,290.00 L121.16,290.50 L121.12,291.00 L121.06,291.50 L120.99,292.00 L120.91,292.50 L120.83,293.00 L120.74,293.50 L120.64,294.00 L120.55,294.50 L120.45,295.00 L120.35,295.50 L120.25,296.00 L120.16,296.50 L120.06,297.00 L119.97,297.50 L119.87,298.00 L119.77,298.50 L119.66,299.00 L119.56,299.50 L119.45,300.00 L119.34,300.50 L119.23,301.00 L119.12,301.50 L119.01,302.00 L118.91,302.50 L118.80,303.00 L118.70,303.50 L118.60,304.00 L118.50,304.50 L118.40,305.00 L118.30,305.50 L118.21,306.00 L118.11,306.50 L118.01,307.00 L117.92,307.50 L117.82,308.00 L117.73,308.50 L117.63,309.00 L117.54,309.50 L117.45,310.00 L117.36,310.50 L117.28,311.00 L117.19,311.50 L117.11,312.00 L117.03,312.50 L116.95,313.00 L116.86,313.50 L116.78,314.00 L116.70,314.50 L116.62,315.00 L116.54,315.50 L116.46,316.00 L116.38,316.50 L116.30,317.00 L116.22,317.50 L116.13,318.00 L116.05,318.50 L115.96,319.00 L115.88,319.50 L115.80,320.00 L115.72,320.50 L115.65,321.00 L115.57,321.50 L115.50,322.00 L115.50,322.00 L115.43,321.50 L115.35,321.00 L115.28,320.50 L115.20,320.00 L115.12,319.50 L115.04,319.00 L114.95,318.50 L114.87,318.00 L114.78,317.50 L114.70,317.00 L114.62,316.50 L114.54,316.00 L114.46,315.50 L114.38,315.00 L114.30,314.50 L114.22,314.00 L114.14,313.50 L114.05,313.00 L113.97,312.50 L113.89,312.00 L113.81,311.50 L113.72,311.00 L113.64,310.50 L113.55,310.00 L113.46,309.50 L113.37,309.00 L113.27,308.50 L113.18,308.00 L113.08,307.50 L112.99,307.00 L112.89,306.50 L112.79,306.00 L112.70,305.50 L112.60,305.00 L112.50,304.50 L112.40,304.00 L112.30,303.50 L112.20,303.00 L112.09,302.50 L111.99,302.00 L111.88,301.50 L111.77,301.00 L111.66,300.50 L111.55,300.00 L111.44,299.50 L111.34,299.00 L111.23,298.50 L111.13,298.00 L111.03,297.50 L110.94,297.00 L110.84,296.50 L110.75,296.00 L110.65,295.50 L110.55,295.00 L110.45,294.50 L110.36,294.00 L110.26,293.50 L110.17,293.00 L110.09,292.50 L110.01,292.00 L109.94,291.50 L109.88,291.00 L109.84,290.50 L109.80,290.00 L109.77,289.50 L109.75,289.00 L109.74,288.50 L109.72,288.00 L109.70,287.50 L109.68,287.00 L109.66,286.50 L109.63,286.00 L109.61,285.50 L109.59,285.00 L109.56,284.50 L109.54,284.00 L109.52,283.50 L109.49,283.00 L109.47,282.50 L109.45,282.00 L109.42,281.50 L109.40,281.00 L109.38,280.50 L109.36,280.00 L109.34,279.50 L109.32,279.00 L109.30,278.50 L109.28,278.00 L109.26,277.50 L109.24,277.00 L109.22,276.50 L109.20,276.00 L109.18,275.50 L109.16,275.00 L109.13,274.50 L109.10,274.00 L109.07,273.50 L109.04,273.00 L109.00,272.50 L108.96,272.00 L108.92,271.50 L108.88,271.00 L108.83,270.50 L108.78,270.00 L108.73,269.50 L108.67,269.00 L108.61,268.50 L108.55,268.00 L108.47,267.50 L108.40,267.00 L108.31,266.50 L108.19,266.00 L108.05,265.50 L107.90,265.00 L107.75,264.50 L107.60,264.00 L107.45,263.50 L107.30,263.00 L107.14,262.50 L106.97,262.00 L106.79,261.50 L106.60,261.00 L106.39,260.50 L106.17,260.00 L105.93,259.50 L105.67,259.00 L105.41,258.50 L105.13,258.00 L104.84,257.50 L104.53,257.00 L104.20,256.50 L103.85,256.00 L103.49,255.50 L103.12,255.00 L102.75,254.50 L102.37,254.00 L101.98,253.50 L101.58,253.00 L101.17,252.50 L100.76,252.00 L100.36,251.50 L99.98,251.00 L99.60,250.50 L99.24,250.00 L98.89,249.50 L98.54,249.00 L98.20,248.50 L97.85,248.00 L97.50,247.50 L97.14,247.00 L96.78,246.50 L96.42,246.00 L96.06,245.50 L95.71,245.00 L95.37,244.50 L95.03,244.00 L94.71,243.50 L94.40,243.00 L94.09,242.50 L93.79,242.00 L93.49,241.50 L93.21,241.00 L92.94,240.50 L92.67,240.00 L92.40,239.50 L92.14,239.00 L91.90,238.50 L91.66,238.00 L91.44,237.50 L91.23,237.00 L91.03,236.50 L90.85,236.00 L90.70,235.50 L90.57,235.00 L90.44,234.50 L90.33,234.00 L90.25,233.50 L90.20,233.00 L90.17,232.50 L90.15,232.00 L90.13,231.50 L90.12,231.00 L90.11,230.50 L90.10,230.00 L90.10,229.50 L90.10,229.00 L90.11,228.50 L90.13,228.00 L90.14,227.50 L90.17,227.00 L90.19,226.50 L90.22,226.00 L90.27,225.50 L90.35,225.00 L90.44,224.50 L90.55,224.00 L90.66,223.50 L90.78,223.00 L90.90,222.50 L91.05,222.00 L91.22,221.50 L91.41,221.00 L91.60,220.50 L91.80,220.00 L92.00,219.50 L92.20,219.00 L92.41,218.50 L92.63,218.00 L92.86,217.50 L93.08,217.00 L93.31,216.50 L93.55,216.00 L93.78,215.50 L94.02,215.00 L94.26,214.50 L94.51,214.00 L94.75,213.50 L95.00,213.00 L95.25,212.50 L95.51,212.00 L95.77,211.50 L96.02,211.00 L96.28,210.50 L96.52,210.00 L96.76,209.50 L96.97,209.00 L97.19,208.50 L97.40,208.00 L97.60,207.50 L97.80,207.00 L97.99,206.50 L98.17,206.00 L98.34,205.50 L98.50,205.00 L98.66,204.50 L98.82,204.00 L98.98,203.50 L99.13,203.00 L99.25,202.50 L99.35,202.00 L99.41,201.50 L99.46,201.00 L99.50,200.50 L99.54,200.00 L99.57,199.50 L99.59,199.00 L99.60,198.50 L99.60,198.00 L99.59,197.50 L99.58,197.00 L99.57,196.50 L99.55,196.00 L99.53,195.50 L99.50,195.00 L99.48,194.50 L99.44,194.00 L99.39,193.50 L99.33,193.00 L99.26,192.50 L99.18,192.00 L99.10,191.50 L99.00,191.00 L98.87,190.50 L98.72,190.00 L98.56,189.50 L98.39,189.00 L98.22,188.50 L98.07,188.00 L97.91,187.50 L97.74,187.00 L97.58,186.50 L97.41,186.00 L97.27,185.50 L97.14,185.00 L97.04,184.50 L96.94,184.00 L96.84,183.50 L96.75,183.00 L96.68,182.50 L96.62,182.00 L96.60,181.50 L96.61,181.00 L96.65,180.50 L96.70,180.00 L96.76,179.50 L96.85,179.00 L96.96,178.50 L97.08,178.00 L97.19,177.50 L97.30,177.00 L97.40,176.50 L97.49,176.00 L97.59,175.50 L97.69,175.00 L97.79,174.50 L97.90,174.00 L98.03,173.50 L98.16,173.00 L98.31,172.50 L98.48,172.00 L98.65,171.50 L98.83,171.00 L99.02,170.50 L99.22,170.00 L99.43,169.50 L99.66,169.00 L99.90,168.50 L100.15,168.00 L100.40,167.50 L100.65,167.00 L100.90,166.50 L101.14,166.00 L101.39,165.50 L101.64,165.00 L101.91,164.50 L102.19,164.00 L102.50,163.50 L102.84,163.00 L103.21,162.50 L103.61,162.00 L104.03,161.50 L104.45,161.00 L104.87,160.50 L105.28,160.00 L105.69,159.50 L106.10,159.00 L106.51,158.50 L106.92,158.00 L107.33,157.50 L107.74,157.00 L108.14,156.50 L108.55,156.00 L108.96,155.50 L109.37,155.00 L109.77,154.50 L110.16,154.00 L110.53,153.50 L110.89,153.00 L111.27,152.50 L111.64,152.00 L112.00,151.50 L112.32,151.00 L112.59,150.50 L112.80,150.00 L112.96,149.50 L113.10,149.00 L113.22,148.50 L113.32,148.00 L113.41,147.50 L113.50,147.00 L113.58,146.50 L113.66,146.00 L113.74,145.50 L113.81,145.00 L113.89,144.50 L113.95,144.00 L114.02,143.50 L114.08,143.00 L114.13,142.50 L114.18,142.00 L114.22,141.50 L114.26,141.00 L114.29,140.50 L114.31,140.00 L114.34,139.50 L114.36,139.00 L114.38,138.50 L114.40,138.00 L114.42,137.50 L114.44,137.00 L114.45,136.50 L114.47,136.00 L114.48,135.50 L114.49,135.00 L114.49,134.50 L114.50,134.00 L114.50,133.50 L114.49,133.00 L114.48,132.50 L114.46,132.00 L114.42,131.50 L114.38,131.00 L114.34,130.50 L114.29,130.00 L114.23,129.50 L114.18,129.00 L114.11,128.50 L114.05,128.00 L113.99,127.50 L113.93,127.00 L113.86,126.50 L113.79,126.00 L113.70,125.50 L113.61,125.00 L113.52,124.50 L113.41,124.00 L113.30,123.50 L113.19,123.00 L113.08,122.50 L112.96,122.00 L112.84,121.50 L112.73,121.00 L112.61,120.50 L112.50,120.00 L112.39,119.50 L112.27,119.00 L112.15,118.50 L112.03,118.00 L111.91,117.50 L111.80,117.00 L111.69,116.50 L111.57,116.00 L111.45,115.50 L111.33,115.00 L111.21,114.50 L111.09,114.00 L110.97,113.50 L110.86,113.00 L110.75,112.50 L110.66,112.00 L110.57,111.50 L110.49,111.00 L110.42,110.50 L110.37,110.00 L110.31,109.50 L110.26,109.00 L110.21,108.50 L110.16,108.00 L110.11,107.50 L110.07,107.00 L110.03,106.50 L109.99,106.00 L109.96,105.50 L109.93,105.00 L109.92,104.50 L109.90,104.00 L109.90,103.50 L109.90,103.00 L109.92,102.50 L109.94,102.00 L109.97,101.50 L110.00,101.00 L110.04,100.50 L110.08,100.00 L110.13,99.50 L110.18,99.00 L110.23,98.50 L110.28,98.00 L110.33,97.50 L110.38,97.00 L110.43,96.50 L110.48,96.00 L110.54,95.50 L110.59,95.00 L110.66,94.50 L110.72,94.00 L110.79,93.50 L110.86,93.00 L110.93,92.50 L111.00,92.00 L111.07,91.50 L111.15,91.00 L111.22,90.50 L111.30,90.00 L111.38,89.50 L111.46,89.00 L111.55,88.50 L111.64,88.00 L111.73,87.50 L111.82,87.00 L111.91,86.50 L112.01,86.00 L112.10,85.50 L112.20,85.00 L112.30,84.50 L112.39,84.00 L112.49,83.50 L112.59,83.00 L112.69,82.50 L112.80,82.00 L112.90,81.50 L113.00,81.00 L113.10,80.50 L113.20,80.00 L113.30,79.50 L113.40,79.00 L113.51,78.50 L113.61,78.00 L113.71,77.50 L113.81,77.00 L113.91,76.50 L114.01,76.00 L114.10,75.50 L114.18,75.00 L114.27,74.50 L114.35,74.00 L114.43,73.50 L114.50,73.00 L114.58,72.50 L114.65,72.00 L114.72,71.50 L114.78,71.00 L114.84,70.50 L114.90,70.00 L114.95,69.50 L115.00,69.00 L115.05,68.50 L115.09,68.00 L115.13,67.50 L115.17,67.00 L115.21,66.50 L115.25,66.00 L115.29,65.50 L115.32,65.00 L115.35,64.50 L115.39,64.00 L115.42,63.50 L115.45,63.00 L115.47,62.50 L115.50,62.00 Z"/></clipPath>
<clipPath id="cpost"><path d="M195.90,179.00 L196.03,179.50 L196.16,180.00 L196.29,180.50 L196.40,181.00 L196.50,181.50 L196.58,182.00 L196.67,182.50 L196.80,183.00 L197.00,183.50 L197.29,184.00 L197.67,184.50 L198.22,185.00 L198.80,185.50 L199.32,186.00 L199.84,186.50 L200.33,187.00 L200.80,187.50 L201.24,188.00 L201.66,188.50 L202.05,189.00 L202.43,189.50 L202.78,190.00 L203.12,190.50 L203.44,191.00 L203.74,191.50 L204.02,192.00 L204.27,192.50 L204.51,193.00 L204.75,193.50 L205.00,194.00 L205.27,194.50 L205.53,195.00 L205.75,195.50 L205.90,196.00 L206.01,196.50 L206.11,197.00 L206.17,197.50 L206.20,198.00 L206.18,198.50 L206.12,199.00 L206.02,199.50 L205.91,200.00 L205.77,200.50 L205.62,201.00 L205.47,201.50 L205.27,202.00 L205.02,202.50 L204.72,203.00 L204.40,203.50 L204.06,204.00 L203.71,204.50 L203.36,205.00 L202.98,205.50 L202.57,206.00 L202.14,206.50 L201.70,207.00 L201.28,207.50 L200.88,208.00 L200.50,208.50 L200.12,209.00 L199.75,209.50 L199.39,210.00 L199.04,210.50 L198.71,211.00 L198.40,211.50 L198.10,212.00 L197.81,212.50 L197.53,213.00 L197.29,213.50 L197.10,214.00 L196.93,214.50 L196.78,215.00 L196.66,215.50 L196.60,216.00 L196.58,216.50 L196.56,217.00 L196.54,217.50 L196.53,218.00 L196.51,218.50 L196.51,219.00 L196.50,219.50 L196.50,220.00 L196.50,220.50 L196.51,221.00 L196.51,221.50 L196.53,222.00 L196.54,222.50 L196.56,223.00 L196.58,223.50 L196.60,224.00 L196.65,224.50 L196.74,225.00 L196.86,225.50 L197.00,226.00 L197.13,226.50 L197.26,227.00 L197.41,227.50 L197.57,228.00 L197.74,228.50 L197.92,229.00 L198.11,229.50 L198.29,230.00 L198.48,230.50 L198.68,231.00 L198.87,231.50 L199.07,232.00 L199.27,232.50 L199.48,233.00 L199.69,233.50 L199.91,234.00 L200.13,234.50 L200.36,235.00 L200.60,235.50 L200.84,236.00 L201.09,236.50 L201.34,237.00 L201.60,237.50 L201.87,238.00 L202.14,238.50 L202.43,239.00 L202.72,239.50 L203.02,240.00 L203.32,240.50 L203.64,241.00 L203.97,241.50 L204.31,242.00 L204.65,242.50 L205.01,243.00 L205.38,243.50 L205.77,244.00 L206.16,244.50 L206.59,245.00 L207.04,245.50 L207.52,246.00 L208.01,246.50 L208.53,247.00 L209.06,247.50 L209.60,248.00 L210.14,248.50 L210.68,249.00 L211.23,249.50 L211.76,250.00 L212.29,250.50 L212.80,251.00 L213.30,251.50 L213.80,252.00 L214.30,252.50 L214.80,253.00 L215.30,253.50 L215.80,254.00 L216.32,254.50 L216.85,255.00 L217.40,255.50 L217.93,256.00 L218.43,256.50 L218.88,257.00 L219.27,257.50 L219.66,258.00 L220.04,258.50 L220.40,259.00 L220.72,259.50 L220.98,260.00 L221.15,260.50 L221.22,261.00 L221.27,261.50 L221.31,262.00 L221.35,262.50 L221.37,263.00 L221.39,263.50 L221.40,264.00 L221.37,264.50 L221.24,265.00 L221.04,265.50 L220.78,266.00 L220.50,266.50 L220.19,267.00 L219.90,267.50 L219.59,268.00 L219.24,268.50 L218.86,269.00 L218.45,269.50 L218.01,270.00 L217.57,270.50 L217.11,271.00 L216.62,271.50 L216.11,272.00 L215.56,272.50 L215.00,273.00 L214.43,273.50 L213.85,274.00 L213.27,274.50 L212.67,275.00 L212.06,275.50 L211.44,276.00 L210.80,276.50 L210.17,277.00 L209.53,277.50 L208.88,278.00 L208.20,278.50 L207.50,279.00 L206.80,279.50 L206.12,280.00 L205.46,280.50 L204.85,281.00 L204.29,281.50 L203.78,282.00 L203.30,282.50 L202.85,283.00 L202.41,283.50 L201.98,284.00 L201.56,284.50 L201.13,285.00 L200.69,285.50 L200.24,286.00 L199.81,286.50 L199.39,287.00 L199.01,287.50 L198.66,288.00 L198.36,288.50 L198.08,289.00 L197.82,289.50 L197.58,290.00 L197.34,290.50 L197.12,291.00 L196.90,291.50 L196.68,292.00 L196.48,292.50 L196.30,293.00 L196.15,293.50 L196.01,294.00 L195.90,294.50 L195.90,294.50 L195.79,294.00 L195.65,293.50 L195.50,293.00 L195.32,292.50 L195.12,292.00 L194.90,291.50 L194.68,291.00 L194.46,290.50 L194.22,290.00 L193.98,289.50 L193.72,289.00 L193.44,288.50 L193.14,288.00 L192.79,287.50 L192.41,287.00 L191.99,286.50 L191.56,286.00 L191.11,285.50 L190.67,285.00 L190.24,284.50 L189.82,284.00 L189.39,283.50 L188.95,283.00 L188.50,282.50 L188.02,282.00 L187.51,281.50 L186.95,281.00 L186.34,280.50 L185.68,280.00 L185.00,279.50 L184.30,279.00 L183.60,278.50 L182.92,278.00 L182.27,277.50 L181.63,277.00 L181.00,276.50 L180.36,276.00 L179.74,275.50 L179.13,275.00 L178.53,274.50 L177.95,274.00 L177.37,273.50 L176.80,273.00 L176.24,272.50 L175.69,272.00 L175.18,271.50 L174.69,271.00 L174.23,270.50 L173.79,270.00 L173.35,269.50 L172.94,269.00 L172.56,268.50 L172.21,268.00 L171.90,267.50 L171.61,267.00 L171.30,266.50 L171.02,266.00 L170.76,265.50 L170.56,265.00 L170.43,264.50 L170.40,264.00 L170.41,263.50 L170.43,263.00 L170.45,262.50 L170.49,262.00 L170.53,261.50 L170.58,261.00 L170.65,260.50 L170.82,260.00 L171.08,259.50 L171.40,259.00 L171.76,258.50 L172.14,258.00 L172.53,257.50 L172.92,257.00 L173.37,256.50 L173.87,256.00 L174.40,255.50 L174.95,255.00 L175.48,254.50 L176.00,254.00 L176.50,253.50 L177.00,253.00 L177.50,252.50 L178.00,252.00 L178.50,251.50 L179.00,251.00 L179.51,250.50 L180.04,250.00 L180.57,249.50 L181.12,249.00 L181.66,248.50 L182.20,248.00 L182.74,247.50 L183.27,247.00 L183.79,246.50 L184.28,246.00 L184.76,245.50 L185.21,245.00 L185.64,244.50 L186.03,244.00 L186.42,243.50 L186.79,243.00 L187.15,242.50 L187.49,242.00 L187.83,241.50 L188.16,241.00 L188.48,240.50 L188.78,240.00 L189.08,239.50 L189.37,239.00 L189.66,238.50 L189.93,238.00 L190.20,237.50 L190.46,237.00 L190.71,236.50 L190.96,236.00 L191.20,235.50 L191.44,235.00 L191.67,234.50 L191.89,234.00 L192.11,233.50 L192.32,233.00 L192.53,232.50 L192.73,232.00 L192.93,231.50 L193.12,231.00 L193.32,230.50 L193.51,230.00 L193.69,229.50 L193.88,229.00 L194.06,228.50 L194.23,228.00 L194.39,227.50 L194.54,227.00 L194.67,226.50 L194.80,226.00 L194.94,225.50 L195.06,225.00 L195.15,224.50 L195.20,224.00 L195.22,223.50 L195.24,223.00 L195.26,222.50 L195.27,222.00 L195.29,221.50 L195.29,221.00 L195.30,220.50 L195.30,220.00 L195.30,219.50 L195.29,219.00 L195.29,218.50 L195.28,218.00 L195.26,217.50 L195.24,217.00 L195.22,216.50 L195.20,216.00 L195.14,215.50 L195.02,215.00 L194.87,214.50 L194.70,214.00 L194.51,213.50 L194.27,213.00 L193.99,212.50 L193.70,212.00 L193.40,211.50 L193.09,211.00 L192.76,210.50 L192.41,210.00 L192.05,209.50 L191.68,209.00 L191.30,208.50 L190.92,208.00 L190.52,207.50 L190.10,207.00 L189.66,206.50 L189.23,206.00 L188.82,205.50 L188.44,205.00 L188.09,204.50 L187.74,204.00 L187.40,203.50 L187.08,203.00 L186.78,202.50 L186.53,202.00 L186.33,201.50 L186.18,201.00 L186.03,200.50 L185.89,200.00 L185.78,199.50 L185.68,199.00 L185.62,198.50 L185.60,198.00 L185.63,197.50 L185.69,197.00 L185.79,196.50 L185.90,196.00 L186.05,195.50 L186.27,195.00 L186.53,194.50 L186.80,194.00 L187.05,193.50 L187.29,193.00 L187.53,192.50 L187.78,192.00 L188.06,191.50 L188.36,191.00 L188.68,190.50 L189.02,190.00 L189.37,189.50 L189.75,189.00 L190.14,188.50 L190.56,188.00 L191.00,187.50 L191.47,187.00 L191.96,186.50 L192.48,186.00 L193.00,185.50 L193.58,185.00 L194.13,184.50 L194.51,184.00 L194.80,183.50 L195.00,183.00 L195.13,182.50 L195.22,182.00 L195.30,181.50 L195.40,181.00 L195.51,180.50 L195.64,180.00 L195.77,179.50 L195.90,179.00 Z"/></clipPath>
<g clip-path="url(#cpre)">
<line x1="85.5" y1="178.0" x2="146" y2="178.0" stroke="#111" stroke-width="1.4" stroke-dasharray="1.4,1.2"/>
<line x1="87.6" y1="221.2" x2="146" y2="221.2" stroke="#111" stroke-width="1.7" stroke-dasharray="5,2"/>
<line x1="85.5" y1="237.9" x2="146" y2="237.9" stroke="#111" stroke-width="1.4" stroke-dasharray="1.4,1.2"/>
</g>
<g clip-path="url(#cpost)">
<line x1="165" y1="258.7" x2="226" y2="258.7" stroke="#111" stroke-width="1.5" stroke-dasharray="3,1.2"/>
<line x1="165" y1="269.5" x2="226" y2="269.5" stroke="#111" stroke-width="1.3" stroke-dasharray="1.1,1.1"/>
</g>
<path d="M115.50,62.00 L115.53,62.50 L115.55,63.00 L115.58,63.50 L115.61,64.00 L115.65,64.50 L115.68,65.00 L115.71,65.50 L115.75,66.00 L115.79,66.50 L115.83,67.00 L115.87,67.50 L115.91,68.00 L115.95,68.50 L116.00,69.00 L116.05,69.50 L116.10,70.00 L116.16,70.50 L116.22,71.00 L116.28,71.50 L116.35,72.00 L116.42,72.50 L116.50,73.00 L116.57,73.50 L116.65,74.00 L116.73,74.50 L116.82,75.00 L116.90,75.50 L116.99,76.00 L117.09,76.50 L117.19,77.00 L117.29,77.50 L117.39,78.00 L117.49,78.50 L117.60,79.00 L117.70,79.50 L117.80,80.00 L117.90,80.50 L118.00,81.00 L118.10,81.50 L118.20,82.00 L118.31,82.50 L118.41,83.00 L118.51,83.50 L118.61,84.00 L118.70,84.50 L118.80,85.00 L118.90,85.50 L118.99,86.00 L119.09,86.50 L119.18,87.00 L119.27,87.50 L119.36,88.00 L119.45,88.50 L119.54,89.00 L119.62,89.50 L119.70,90.00 L119.78,90.50 L119.85,91.00 L119.93,91.50 L120.00,92.00 L120.07,92.50 L120.14,93.00 L120.21,93.50 L120.28,94.00 L120.34,94.50 L120.41,95.00 L120.46,95.50 L120.52,96.00 L120.57,96.50 L120.62,97.00 L120.67,97.50 L120.72,98.00 L120.77,98.50 L120.82,99.00 L120.87,99.50 L120.92,100.00 L120.96,100.50 L121.00,101.00 L121.03,101.50 L121.06,102.00 L121.08,102.50 L121.10,103.00 L121.10,103.50 L121.10,104.00 L121.08,104.50 L121.07,105.00 L121.04,105.50 L121.01,106.00 L120.97,106.50 L120.93,107.00 L120.89,107.50 L120.84,108.00 L120.79,108.50 L120.74,109.00 L120.69,109.50 L120.63,110.00 L120.58,110.50 L120.51,111.00 L120.43,111.50 L120.34,112.00 L120.25,112.50 L120.14,113.00 L120.03,113.50 L119.91,114.00 L119.79,114.50 L119.67,115.00 L119.55,115.50 L119.43,116.00 L119.31,116.50 L119.20,117.00 L119.09,117.50 L118.97,118.00 L118.85,118.50 L118.73,119.00 L118.61,119.50 L118.50,120.00 L118.39,120.50 L118.27,121.00 L118.16,121.50 L118.04,122.00 L117.92,122.50 L117.81,123.00 L117.70,123.50 L117.59,124.00 L117.48,124.50 L117.39,125.00 L117.30,125.50 L117.21,126.00 L117.14,126.50 L117.07,127.00 L117.01,127.50 L116.95,128.00 L116.89,128.50 L116.82,129.00 L116.77,129.50 L116.71,130.00 L116.66,130.50 L116.62,131.00 L116.58,131.50 L116.54,132.00 L116.52,132.50 L116.51,133.00 L116.50,133.50 L116.50,134.00 L116.51,134.50 L116.51,135.00 L116.52,135.50 L116.53,136.00 L116.55,136.50 L116.56,137.00 L116.58,137.50 L116.60,138.00 L116.62,138.50 L116.64,139.00 L116.66,139.50 L116.69,140.00 L116.71,140.50 L116.74,141.00 L116.78,141.50 L116.82,142.00 L116.87,142.50 L116.92,143.00 L116.98,143.50 L117.05,144.00 L117.11,144.50 L117.19,145.00 L117.26,145.50 L117.34,146.00 L117.42,146.50 L117.50,147.00 L117.59,147.50 L117.68,148.00 L117.78,148.50 L117.90,149.00 L118.04,149.50 L118.20,150.00 L118.41,150.50 L118.68,151.00 L119.00,151.50 L119.36,152.00 L119.73,152.50 L120.11,153.00 L120.47,153.50 L120.84,154.00 L121.23,154.50 L121.63,155.00 L122.04,155.50 L122.45,156.00 L122.86,156.50 L123.26,157.00 L123.67,157.50 L124.08,158.00 L124.49,158.50 L124.90,159.00 L125.31,159.50 L125.72,160.00 L126.13,160.50 L126.55,161.00 L126.97,161.50 L127.39,162.00 L127.79,162.50 L128.16,163.00 L128.50,163.50 L128.81,164.00 L129.09,164.50 L129.36,165.00 L129.61,165.50 L129.86,166.00 L130.10,166.50 L130.35,167.00 L130.60,167.50 L130.85,168.00 L131.10,168.50 L131.34,169.00 L131.57,169.50 L131.78,170.00 L131.98,170.50 L132.17,171.00 L132.35,171.50 L132.52,172.00 L132.69,172.50 L132.84,173.00 L132.97,173.50 L133.10,174.00 L133.21,174.50 L133.31,175.00 L133.41,175.50 L133.51,176.00 L133.60,176.50 L133.70,177.00 L133.81,177.50 L133.92,178.00 L134.04,178.50 L134.15,179.00 L134.24,179.50 L134.30,180.00 L134.35,180.50 L134.39,181.00 L134.40,181.50 L134.38,182.00 L134.32,182.50 L134.25,183.00 L134.16,183.50 L134.06,184.00 L133.96,184.50 L133.86,185.00 L133.73,185.50 L133.59,186.00 L133.42,186.50 L133.26,187.00 L133.09,187.50 L132.93,188.00 L132.78,188.50 L132.61,189.00 L132.44,189.50 L132.28,190.00 L132.13,190.50 L132.00,191.00 L131.90,191.50 L131.82,192.00 L131.74,192.50 L131.67,193.00 L131.61,193.50 L131.56,194.00 L131.52,194.50 L131.50,195.00 L131.47,195.50 L131.45,196.00 L131.43,196.50 L131.42,197.00 L131.41,197.50 L131.40,198.00 L131.40,198.50 L131.41,199.00 L131.43,199.50 L131.46,200.00 L131.50,200.50 L131.54,201.00 L131.59,201.50 L131.65,202.00 L131.75,202.50 L131.87,203.00 L132.02,203.50 L132.18,204.00 L132.34,204.50 L132.50,205.00 L132.66,205.50 L132.83,206.00 L133.01,206.50 L133.20,207.00 L133.40,207.50 L133.60,208.00 L133.81,208.50 L134.03,209.00 L134.24,209.50 L134.48,210.00 L134.72,210.50 L134.98,211.00 L135.23,211.50 L135.49,212.00 L135.75,212.50 L136.00,213.00 L136.25,213.50 L136.49,214.00 L136.74,214.50 L136.98,215.00 L137.22,215.50 L137.45,216.00 L137.69,216.50 L137.92,217.00 L138.14,217.50 L138.37,218.00 L138.59,218.50 L138.80,219.00 L139.00,219.50 L139.20,220.00 L139.40,220.50 L139.59,221.00 L139.78,221.50 L139.95,222.00 L140.10,222.50 L140.22,223.00 L140.34,223.50 L140.45,224.00 L140.56,224.50 L140.65,225.00 L140.73,225.50 L140.78,226.00 L140.81,226.50 L140.83,227.00 L140.86,227.50 L140.87,228.00 L140.89,228.50 L140.90,229.00 L140.90,229.50 L140.90,230.00 L140.89,230.50 L140.88,231.00 L140.87,231.50 L140.85,232.00 L140.83,232.50 L140.80,233.00 L140.75,233.50 L140.67,234.00 L140.56,234.50 L140.43,235.00 L140.30,235.50 L140.15,236.00 L139.97,236.50 L139.77,237.00 L139.56,237.50 L139.34,238.00 L139.10,238.50 L138.86,239.00 L138.60,239.50 L138.33,240.00 L138.06,240.50 L137.79,241.00 L137.51,241.50 L137.21,242.00 L136.91,242.50 L136.60,243.00 L136.29,243.50 L135.97,244.00 L135.63,244.50 L135.29,245.00 L134.94,245.50 L134.58,246.00 L134.22,246.50 L133.86,247.00 L133.50,247.50 L133.15,248.00 L132.80,248.50 L132.46,249.00 L132.11,249.50 L131.76,250.00 L131.40,250.50 L131.02,251.00 L130.64,251.50 L130.24,252.00 L129.83,252.50 L129.42,253.00 L129.02,253.50 L128.63,254.00 L128.25,254.50 L127.88,255.00 L127.51,255.50 L127.15,256.00 L126.80,256.50 L126.47,257.00 L126.16,257.50 L125.87,258.00 L125.59,258.50 L125.33,259.00 L125.07,259.50 L124.83,260.00 L124.61,260.50 L124.40,261.00 L124.21,261.50 L124.03,262.00 L123.86,262.50 L123.70,263.00 L123.55,263.50 L123.40,264.00 L123.25,264.50 L123.10,265.00 L122.95,265.50 L122.81,266.00 L122.69,266.50 L122.60,267.00 L122.53,267.50 L122.45,268.00 L122.39,268.50 L122.33,269.00 L122.27,269.50 L122.22,270.00 L122.17,270.50 L122.12,271.00 L122.08,271.50 L122.04,272.00 L122.00,272.50 L121.96,273.00 L121.93,273.50 L121.90,274.00 L121.87,274.50 L121.84,275.00 L121.82,275.50 L121.80,276.00 L121.78,276.50 L121.76,277.00 L121.74,277.50 L121.72,278.00 L121.70,278.50 L121.68,279.00 L121.66,279.50 L121.64,280.00 L121.62,280.50 L121.60,281.00 L121.58,281.50 L121.55,282.00 L121.53,282.50 L121.51,283.00 L121.48,283.50 L121.46,284.00 L121.44,284.50 L121.41,285.00 L121.39,285.50 L121.37,286.00 L121.34,286.50 L121.32,287.00 L121.30,287.50 L121.28,288.00 L121.26,288.50 L121.25,289.00 L121.23,289.50 L121.20,290.00 L121.16,290.50 L121.12,291.00 L121.06,291.50 L120.99,292.00 L120.91,292.50 L120.83,293.00 L120.74,293.50 L120.64,294.00 L120.55,294.50 L120.45,295.00 L120.35,295.50 L120.25,296.00 L120.16,296.50 L120.06,297.00 L119.97,297.50 L119.87,298.00 L119.77,298.50 L119.66,299.00 L119.56,299.50 L119.45,300.00 L119.34,300.50 L119.23,301.00 L119.12,301.50 L119.01,302.00 L118.91,302.50 L118.80,303.00 L118.70,303.50 L118.60,304.00 L118.50,304.50 L118.40,305.00 L118.30,305.50 L118.21,306.00 L118.11,306.50 L118.01,307.00 L117.92,307.50 L117.82,308.00 L117.73,308.50 L117.63,309.00 L117.54,309.50 L117.45,310.00 L117.36,310.50 L117.28,311.00 L117.19,311.50 L117.11,312.00 L117.03,312.50 L116.95,313.00 L116.86,313.50 L116.78,314.00 L116.70,314.50 L116.62,315.00 L116.54,315.50 L116.46,316.00 L116.38,316.50 L116.30,317.00 L116.22,317.50 L116.13,318.00 L116.05,318.50 L115.96,319.00 L115.88,319.50 L115.80,320.00 L115.72,320.50 L115.65,321.00 L115.57,321.50 L115.50,322.00 L115.50,322.00 L115.43,321.50 L115.35,321.00 L115.28,320.50 L115.20,320.00 L115.12,319.50 L115.04,319.00 L114.95,318.50 L114.87,318.00 L114.78,317.50 L114.70,317.00 L114.62,316.50 L114.54,316.00 L114.46,315.50 L114.38,315.00 L114.30,314.50 L114.22,314.00 L114.14,313.50 L114.05,313.00 L113.97,312.50 L113.89,312.00 L113.81,311.50 L113.72,311.00 L113.64,310.50 L113.55,310.00 L113.46,309.50 L113.37,309.00 L113.27,308.50 L113.18,308.00 L113.08,307.50 L112.99,307.00 L112.89,306.50 L112.79,306.00 L112.70,305.50 L112.60,305.00 L112.50,304.50 L112.40,304.00 L112.30,303.50 L112.20,303.00 L112.09,302.50 L111.99,302.00 L111.88,301.50 L111.77,301.00 L111.66,300.50 L111.55,300.00 L111.44,299.50 L111.34,299.00 L111.23,298.50 L111.13,298.00 L111.03,297.50 L110.94,297.00 L110.84,296.50 L110.75,296.00 L110.65,295.50 L110.55,295.00 L110.45,294.50 L110.36,294.00 L110.26,293.50 L110.17,293.00 L110.09,292.50 L110.01,292.00 L109.94,291.50 L109.88,291.00 L109.84,290.50 L109.80,290.00 L109.77,289.50 L109.75,289.00 L109.74,288.50 L109.72,288.00 L109.70,287.50 L109.68,287.00 L109.66,286.50 L109.63,286.00 L109.61,285.50 L109.59,285.00 L109.56,284.50 L109.54,284.00 L109.52,283.50 L109.49,283.00 L109.47,282.50 L109.45,282.00 L109.42,281.50 L109.40,281.00 L109.38,280.50 L109.36,280.00 L109.34,279.50 L109.32,279.00 L109.30,278.50 L109.28,278.00 L109.26,277.50 L109.24,277.00 L109.22,276.50 L109.20,276.00 L109.18,275.50 L109.16,275.00 L109.13,274.50 L109.10,274.00 L109.07,273.50 L109.04,273.00 L109.00,272.50 L108.96,272.00 L108.92,271.50 L108.88,271.00 L108.83,270.50 L108.78,270.00 L108.73,269.50 L108.67,269.00 L108.61,268.50 L108.55,268.00 L108.47,267.50 L108.40,267.00 L108.31,266.50 L108.19,266.00 L108.05,265.50 L107.90,265.00 L107.75,264.50 L107.60,264.00 L107.45,263.50 L107.30,263.00 L107.14,262.50 L106.97,262.00 L106.79,261.50 L106.60,261.00 L106.39,260.50 L106.17,260.00 L105.93,259.50 L105.67,259.00 L105.41,258.50 L105.13,258.00 L104.84,257.50 L104.53,257.00 L104.20,256.50 L103.85,256.00 L103.49,255.50 L103.12,255.00 L102.75,254.50 L102.37,254.00 L101.98,253.50 L101.58,253.00 L101.17,252.50 L100.76,252.00 L100.36,251.50 L99.98,251.00 L99.60,250.50 L99.24,250.00 L98.89,249.50 L98.54,249.00 L98.20,248.50 L97.85,248.00 L97.50,247.50 L97.14,247.00 L96.78,246.50 L96.42,246.00 L96.06,245.50 L95.71,245.00 L95.37,244.50 L95.03,244.00 L94.71,243.50 L94.40,243.00 L94.09,242.50 L93.79,242.00 L93.49,241.50 L93.21,241.00 L92.94,240.50 L92.67,240.00 L92.40,239.50 L92.14,239.00 L91.90,238.50 L91.66,238.00 L91.44,237.50 L91.23,237.00 L91.03,236.50 L90.85,236.00 L90.70,235.50 L90.57,235.00 L90.44,234.50 L90.33,234.00 L90.25,233.50 L90.20,233.00 L90.17,232.50 L90.15,232.00 L90.13,231.50 L90.12,231.00 L90.11,230.50 L90.10,230.00 L90.10,229.50 L90.10,229.00 L90.11,228.50 L90.13,228.00 L90.14,227.50 L90.17,227.00 L90.19,226.50 L90.22,226.00 L90.27,225.50 L90.35,225.00 L90.44,224.50 L90.55,224.00 L90.66,223.50 L90.78,223.00 L90.90,222.50 L91.05,222.00 L91.22,221.50 L91.41,221.00 L91.60,220.50 L91.80,220.00 L92.00,219.50 L92.20,219.00 L92.41,218.50 L92.63,218.00 L92.86,217.50 L93.08,217.00 L93.31,216.50 L93.55,216.00 L93.78,215.50 L94.02,215.00 L94.26,214.50 L94.51,214.00 L94.75,213.50 L95.00,213.00 L95.25,212.50 L95.51,212.00 L95.77,211.50 L96.02,211.00 L96.28,210.50 L96.52,210.00 L96.76,209.50 L96.97,209.00 L97.19,208.50 L97.40,208.00 L97.60,207.50 L97.80,207.00 L97.99,206.50 L98.17,206.00 L98.34,205.50 L98.50,205.00 L98.66,204.50 L98.82,204.00 L98.98,203.50 L99.13,203.00 L99.25,202.50 L99.35,202.00 L99.41,201.50 L99.46,201.00 L99.50,200.50 L99.54,200.00 L99.57,199.50 L99.59,199.00 L99.60,198.50 L99.60,198.00 L99.59,197.50 L99.58,197.00 L99.57,196.50 L99.55,196.00 L99.53,195.50 L99.50,195.00 L99.48,194.50 L99.44,194.00 L99.39,193.50 L99.33,193.00 L99.26,192.50 L99.18,192.00 L99.10,191.50 L99.00,191.00 L98.87,190.50 L98.72,190.00 L98.56,189.50 L98.39,189.00 L98.22,188.50 L98.07,188.00 L97.91,187.50 L97.74,187.00 L97.58,186.50 L97.41,186.00 L97.27,185.50 L97.14,185.00 L97.04,184.50 L96.94,184.00 L96.84,183.50 L96.75,183.00 L96.68,182.50 L96.62,182.00 L96.60,181.50 L96.61,181.00 L96.65,180.50 L96.70,180.00 L96.76,179.50 L96.85,179.00 L96.96,178.50 L97.08,178.00 L97.19,177.50 L97.30,177.00 L97.40,176.50 L97.49,176.00 L97.59,175.50 L97.69,175.00 L97.79,174.50 L97.90,174.00 L98.03,173.50 L98.16,173.00 L98.31,172.50 L98.48,172.00 L98.65,171.50 L98.83,171.00 L99.02,170.50 L99.22,170.00 L99.43,169.50 L99.66,169.00 L99.90,168.50 L100.15,168.00 L100.40,167.50 L100.65,167.00 L100.90,166.50 L101.14,166.00 L101.39,165.50 L101.64,165.00 L101.91,164.50 L102.19,164.00 L102.50,163.50 L102.84,163.00 L103.21,162.50 L103.61,162.00 L104.03,161.50 L104.45,161.00 L104.87,160.50 L105.28,160.00 L105.69,159.50 L106.10,159.00 L106.51,158.50 L106.92,158.00 L107.33,157.50 L107.74,157.00 L108.14,156.50 L108.55,156.00 L108.96,155.50 L109.37,155.00 L109.77,154.50 L110.16,154.00 L110.53,153.50 L110.89,153.00 L111.27,152.50 L111.64,152.00 L112.00,151.50 L112.32,151.00 L112.59,150.50 L112.80,150.00 L112.96,149.50 L113.10,149.00 L113.22,148.50 L113.32,148.00 L113.41,147.50 L113.50,147.00 L113.58,146.50 L113.66,146.00 L113.74,145.50 L113.81,145.00 L113.89,144.50 L113.95,144.00 L114.02,143.50 L114.08,143.00 L114.13,142.50 L114.18,142.00 L114.22,141.50 L114.26,141.00 L114.29,140.50 L114.31,140.00 L114.34,139.50 L114.36,139.00 L114.38,138.50 L114.40,138.00 L114.42,137.50 L114.44,137.00 L114.45,136.50 L114.47,136.00 L114.48,135.50 L114.49,135.00 L114.49,134.50 L114.50,134.00 L114.50,133.50 L114.49,133.00 L114.48,132.50 L114.46,132.00 L114.42,131.50 L114.38,131.00 L114.34,130.50 L114.29,130.00 L114.23,129.50 L114.18,129.00 L114.11,128.50 L114.05,128.00 L113.99,127.50 L113.93,127.00 L113.86,126.50 L113.79,126.00 L113.70,125.50 L113.61,125.00 L113.52,124.50 L113.41,124.00 L113.30,123.50 L113.19,123.00 L113.08,122.50 L112.96,122.00 L112.84,121.50 L112.73,121.00 L112.61,120.50 L112.50,120.00 L112.39,119.50 L112.27,119.00 L112.15,118.50 L112.03,118.00 L111.91,117.50 L111.80,117.00 L111.69,116.50 L111.57,116.00 L111.45,115.50 L111.33,115.00 L111.21,114.50 L111.09,114.00 L110.97,113.50 L110.86,113.00 L110.75,112.50 L110.66,112.00 L110.57,111.50 L110.49,111.00 L110.42,110.50 L110.37,110.00 L110.31,109.50 L110.26,109.00 L110.21,108.50 L110.16,108.00 L110.11,107.50 L110.07,107.00 L110.03,106.50 L109.99,106.00 L109.96,105.50 L109.93,105.00 L109.92,104.50 L109.90,104.00 L109.90,103.50 L109.90,103.00 L109.92,102.50 L109.94,102.00 L109.97,101.50 L110.00,101.00 L110.04,100.50 L110.08,100.00 L110.13,99.50 L110.18,99.00 L110.23,98.50 L110.28,98.00 L110.33,97.50 L110.38,97.00 L110.43,96.50 L110.48,96.00 L110.54,95.50 L110.59,95.00 L110.66,94.50 L110.72,94.00 L110.79,93.50 L110.86,93.00 L110.93,92.50 L111.00,92.00 L111.07,91.50 L111.15,91.00 L111.22,90.50 L111.30,90.00 L111.38,89.50 L111.46,89.00 L111.55,88.50 L111.64,88.00 L111.73,87.50 L111.82,87.00 L111.91,86.50 L112.01,86.00 L112.10,85.50 L112.20,85.00 L112.30,84.50 L112.39,84.00 L112.49,83.50 L112.59,83.00 L112.69,82.50 L112.80,82.00 L112.90,81.50 L113.00,81.00 L113.10,80.50 L113.20,80.00 L113.30,79.50 L113.40,79.00 L113.51,78.50 L113.61,78.00 L113.71,77.50 L113.81,77.00 L113.91,76.50 L114.01,76.00 L114.10,75.50 L114.18,75.00 L114.27,74.50 L114.35,74.00 L114.43,73.50 L114.50,73.00 L114.58,72.50 L114.65,72.00 L114.72,71.50 L114.78,71.00 L114.84,70.50 L114.90,70.00 L114.95,69.50 L115.00,69.00 L115.05,68.50 L115.09,68.00 L115.13,67.50 L115.17,67.00 L115.21,66.50 L115.25,66.00 L115.29,65.50 L115.32,65.00 L115.35,64.50 L115.39,64.00 L115.42,63.50 L115.45,63.00 L115.47,62.50 L115.50,62.00 Z" fill="none" stroke="#111" stroke-width="1.5" stroke-linejoin="round"/>
<path d="M195.90,179.00 L196.03,179.50 L196.16,180.00 L196.29,180.50 L196.40,181.00 L196.50,181.50 L196.58,182.00 L196.67,182.50 L196.80,183.00 L197.00,183.50 L197.29,184.00 L197.67,184.50 L198.22,185.00 L198.80,185.50 L199.32,186.00 L199.84,186.50 L200.33,187.00 L200.80,187.50 L201.24,188.00 L201.66,188.50 L202.05,189.00 L202.43,189.50 L202.78,190.00 L203.12,190.50 L203.44,191.00 L203.74,191.50 L204.02,192.00 L204.27,192.50 L204.51,193.00 L204.75,193.50 L205.00,194.00 L205.27,194.50 L205.53,195.00 L205.75,195.50 L205.90,196.00 L206.01,196.50 L206.11,197.00 L206.17,197.50 L206.20,198.00 L206.18,198.50 L206.12,199.00 L206.02,199.50 L205.91,200.00 L205.77,200.50 L205.62,201.00 L205.47,201.50 L205.27,202.00 L205.02,202.50 L204.72,203.00 L204.40,203.50 L204.06,204.00 L203.71,204.50 L203.36,205.00 L202.98,205.50 L202.57,206.00 L202.14,206.50 L201.70,207.00 L201.28,207.50 L200.88,208.00 L200.50,208.50 L200.12,209.00 L199.75,209.50 L199.39,210.00 L199.04,210.50 L198.71,211.00 L198.40,211.50 L198.10,212.00 L197.81,212.50 L197.53,213.00 L197.29,213.50 L197.10,214.00 L196.93,214.50 L196.78,215.00 L196.66,215.50 L196.60,216.00 L196.58,216.50 L196.56,217.00 L196.54,217.50 L196.53,218.00 L196.51,218.50 L196.51,219.00 L196.50,219.50 L196.50,220.00 L196.50,220.50 L196.51,221.00 L196.51,221.50 L196.53,222.00 L196.54,222.50 L196.56,223.00 L196.58,223.50 L196.60,224.00 L196.65,224.50 L196.74,225.00 L196.86,225.50 L197.00,226.00 L197.13,226.50 L197.26,227.00 L197.41,227.50 L197.57,228.00 L197.74,228.50 L197.92,229.00 L198.11,229.50 L198.29,230.00 L198.48,230.50 L198.68,231.00 L198.87,231.50 L199.07,232.00 L199.27,232.50 L199.48,233.00 L199.69,233.50 L199.91,234.00 L200.13,234.50 L200.36,235.00 L200.60,235.50 L200.84,236.00 L201.09,236.50 L201.34,237.00 L201.60,237.50 L201.87,238.00 L202.14,238.50 L202.43,239.00 L202.72,239.50 L203.02,240.00 L203.32,240.50 L203.64,241.00 L203.97,241.50 L204.31,242.00 L204.65,242.50 L205.01,243.00 L205.38,243.50 L205.77,244.00 L206.16,244.50 L206.59,245.00 L207.04,245.50 L207.52,246.00 L208.01,246.50 L208.53,247.00 L209.06,247.50 L209.60,248.00 L210.14,248.50 L210.68,249.00 L211.23,249.50 L211.76,250.00 L212.29,250.50 L212.80,251.00 L213.30,251.50 L213.80,252.00 L214.30,252.50 L214.80,253.00 L215.30,253.50 L215.80,254.00 L216.32,254.50 L216.85,255.00 L217.40,255.50 L217.93,256.00 L218.43,256.50 L218.88,257.00 L219.27,257.50 L219.66,258.00 L220.04,258.50 L220.40,259.00 L220.72,259.50 L220.98,260.00 L221.15,260.50 L221.22,261.00 L221.27,261.50 L221.31,262.00 L221.35,262.50 L221.37,263.00 L221.39,263.50 L221.40,264.00 L221.37,264.50 L221.24,265.00 L221.04,265.50 L220.78,266.00 L220.50,266.50 L220.19,267.00 L219.90,267.50 L219.59,268.00 L219.24,268.50 L218.86,269.00 L218.45,269.50 L218.01,270.00 L217.57,270.50 L217.11,271.00 L216.62,271.50 L216.11,272.00 L215.56,272.50 L215.00,273.00 L214.43,273.50 L213.85,274.00 L213.27,274.50 L212.67,275.00 L212.06,275.50 L211.44,276.00 L210.80,276.50 L210.17,277.00 L209.53,277.50 L208.88,278.00 L208.20,278.50 L207.50,279.00 L206.80,279.50 L206.12,280.00 L205.46,280.50 L204.85,281.00 L204.29,281.50 L203.78,282.00 L203.30,282.50 L202.85,283.00 L202.41,283.50 L201.98,284.00 L201.56,284.50 L201.13,285.00 L200.69,285.50 L200.24,286.00 L199.81,286.50 L199.39,287.00 L199.01,287.50 L198.66,288.00 L198.36,288.50 L198.08,289.00 L197.82,289.50 L197.58,290.00 L197.34,290.50 L197.12,291.00 L196.90,291.50 L196.68,292.00 L196.48,292.50 L196.30,293.00 L196.15,293.50 L196.01,294.00 L195.90,294.50 L195.90,294.50 L195.79,294.00 L195.65,293.50 L195.50,293.00 L195.32,292.50 L195.12,292.00 L194.90,291.50 L194.68,291.00 L194.46,290.50 L194.22,290.00 L193.98,289.50 L193.72,289.00 L193.44,288.50 L193.14,288.00 L192.79,287.50 L192.41,287.00 L191.99,286.50 L191.56,286.00 L191.11,285.50 L190.67,285.00 L190.24,284.50 L189.82,284.00 L189.39,283.50 L188.95,283.00 L188.50,282.50 L188.02,282.00 L187.51,281.50 L186.95,281.00 L186.34,280.50 L185.68,280.00 L185.00,279.50 L184.30,279.00 L183.60,278.50 L182.92,278.00 L182.27,277.50 L181.63,277.00 L181.00,276.50 L180.36,276.00 L179.74,275.50 L179.13,275.00 L178.53,274.50 L177.95,274.00 L177.37,273.50 L176.80,273.00 L176.24,272.50 L175.69,272.00 L175.18,271.50 L174.69,271.00 L174.23,270.50 L173.79,270.00 L173.35,269.50 L172.94,269.00 L172.56,268.50 L172.21,268.00 L171.90,267.50 L171.61,267.00 L171.30,266.50 L171.02,266.00 L170.76,265.50 L170.56,265.00 L170.43,264.50 L170.40,264.00 L170.41,263.50 L170.43,263.00 L170.45,262.50 L170.49,262.00 L170.53,261.50 L170.58,261.00 L170.65,260.50 L170.82,260.00 L171.08,259.50 L171.40,259.00 L171.76,258.50 L172.14,258.00 L172.53,257.50 L172.92,257.00 L173.37,256.50 L173.87,256.00 L174.40,255.50 L174.95,255.00 L175.48,254.50 L176.00,254.00 L176.50,253.50 L177.00,253.00 L177.50,252.50 L178.00,252.00 L178.50,251.50 L179.00,251.00 L179.51,250.50 L180.04,250.00 L180.57,249.50 L181.12,249.00 L181.66,248.50 L182.20,248.00 L182.74,247.50 L183.27,247.00 L183.79,246.50 L184.28,246.00 L184.76,245.50 L185.21,245.00 L185.64,244.50 L186.03,244.00 L186.42,243.50 L186.79,243.00 L187.15,242.50 L187.49,242.00 L187.83,241.50 L188.16,241.00 L188.48,240.50 L188.78,240.00 L189.08,239.50 L189.37,239.00 L189.66,238.50 L189.93,238.00 L190.20,237.50 L190.46,237.00 L190.71,236.50 L190.96,236.00 L191.20,235.50 L191.44,235.00 L191.67,234.50 L191.89,234.00 L192.11,233.50 L192.32,233.00 L192.53,232.50 L192.73,232.00 L192.93,231.50 L193.12,231.00 L193.32,230.50 L193.51,230.00 L193.69,229.50 L193.88,229.00 L194.06,228.50 L194.23,228.00 L194.39,227.50 L194.54,227.00 L194.67,226.50 L194.80,226.00 L194.94,225.50 L195.06,225.00 L195.15,224.50 L195.20,224.00 L195.22,223.50 L195.24,223.00 L195.26,222.50 L195.27,222.00 L195.29,221.50 L195.29,221.00 L195.30,220.50 L195.30,220.00 L195.30,219.50 L195.29,219.00 L195.29,218.50 L195.28,218.00 L195.26,217.50 L195.24,217.00 L195.22,216.50 L195.20,216.00 L195.14,215.50 L195.02,215.00 L194.87,214.50 L194.70,214.00 L194.51,213.50 L194.27,213.00 L193.99,212.50 L193.70,212.00 L193.40,211.50 L193.09,211.00 L192.76,210.50 L192.41,210.00 L192.05,209.50 L191.68,209.00 L191.30,208.50 L190.92,208.00 L190.52,207.50 L190.10,207.00 L189.66,206.50 L189.23,206.00 L188.82,205.50 L188.44,205.00 L188.09,204.50 L187.74,204.00 L187.40,203.50 L187.08,203.00 L186.78,202.50 L186.53,202.00 L186.33,201.50 L186.18,201.00 L186.03,200.50 L185.89,200.00 L185.78,199.50 L185.68,199.00 L185.62,198.50 L185.60,198.00 L185.63,197.50 L185.69,197.00 L185.79,196.50 L185.90,196.00 L186.05,195.50 L186.27,195.00 L186.53,194.50 L186.80,194.00 L187.05,193.50 L187.29,193.00 L187.53,192.50 L187.78,192.00 L188.06,191.50 L188.36,191.00 L188.68,190.50 L189.02,190.00 L189.37,189.50 L189.75,189.00 L190.14,188.50 L190.56,188.00 L191.00,187.50 L191.47,187.00 L191.96,186.50 L192.48,186.00 L193.00,185.50 L193.58,185.00 L194.13,184.50 L194.51,184.00 L194.80,183.50 L195.00,183.00 L195.13,182.50 L195.22,182.00 L195.30,181.50 L195.40,181.00 L195.51,180.50 L195.64,180.00 L195.77,179.50 L195.90,179.00 Z" fill="none" stroke="#111" stroke-width="1.5" stroke-linejoin="round"/>
<line x1="115.10" y1="103.40" x2="195.40" y2="198.80" stroke="#111" stroke-width="1.35"/>
<line x1="115.10" y1="177.00" x2="195.40" y2="199.40" stroke="#111" stroke-width="1.35"/>
<line x1="115.10" y1="177.80" x2="195.40" y2="278.30" stroke="#111" stroke-width="1.35"/>
<line x1="115.10" y1="180.00" x2="195.40" y2="262.30" stroke="#111" stroke-width="1.35"/>
<line x1="115.10" y1="209.40" x2="195.40" y2="254.40" stroke="#111" stroke-width="1.35"/>
<line x1="115.10" y1="221.40" x2="195.40" y2="241.20" stroke="#111" stroke-width="1.35"/>
<line x1="115.10" y1="222.00" x2="195.40" y2="257.50" stroke="#111" stroke-width="1.35"/>
<line x1="115.10" y1="236.70" x2="195.40" y2="267.20" stroke="#111" stroke-width="1.35"/>
<line x1="115.10" y1="237.80" x2="195.40" y2="270.00" stroke="#111" stroke-width="1.35"/>
<line x1="115.10" y1="249.00" x2="195.40" y2="259.50" stroke="#111" stroke-width="1.35"/>
<line x1="115.10" y1="287.20" x2="195.40" y2="273.30" stroke="#111" stroke-width="1.35"/>
<circle cx="115.10" cy="103.40" r="2.75" fill="#2a0f0a" stroke="#060606" stroke-width="1.45"/>
<circle cx="115.10" cy="177.00" r="2.75" fill="#2a0f0a" stroke="#060606" stroke-width="1.45"/>
<circle cx="115.10" cy="177.80" r="2.75" fill="#2a0f0a" stroke="#060606" stroke-width="1.45"/>
<circle cx="115.10" cy="180.00" r="2.75" fill="#2a0f0a" stroke="#060606" stroke-width="1.45"/>
<circle cx="115.10" cy="209.40" r="2.75" fill="#2a0f0a" stroke="#060606" stroke-width="1.45"/>
<circle cx="115.10" cy="221.40" r="2.75" fill="#2a0f0a" stroke="#060606" stroke-width="1.45"/>
<circle cx="115.10" cy="222.00" r="2.75" fill="#2a0f0a" stroke="#060606" stroke-width="1.45"/>
<circle cx="115.10" cy="236.70" r="2.75" fill="#2a0f0a" stroke="#060606" stroke-width="1.45"/>
<circle cx="115.10" cy="237.80" r="2.75" fill="#2a0f0a" stroke="#060606" stroke-width="1.45"/>
<circle cx="115.10" cy="249.00" r="2.75" fill="#2a0f0a" stroke="#060606" stroke-width="1.45"/>
<circle cx="115.10" cy="287.20" r="2.75" fill="#2a0f0a" stroke="#060606" stroke-width="1.45"/>
<circle cx="195.40" cy="198.80" r="2.7" fill="#1c0f22" stroke="#060606" stroke-width="1.35"/>
<circle cx="195.40" cy="199.40" r="2.7" fill="#1c0f22" stroke="#060606" stroke-width="1.35"/>
<circle cx="195.40" cy="278.30" r="2.7" fill="#1c0f22" stroke="#060606" stroke-width="1.35"/>
<circle cx="195.40" cy="262.30" r="2.7" fill="#1c0f22" stroke="#060606" stroke-width="1.35"/>
<circle cx="195.40" cy="254.40" r="2.7" fill="#1c0f22" stroke="#060606" stroke-width="1.35"/>
<circle cx="195.40" cy="241.20" r="2.7" fill="#1c0f22" stroke="#060606" stroke-width="1.35"/>
<circle cx="195.40" cy="257.50" r="2.7" fill="#1c0f22" stroke="#060606" stroke-width="1.35"/>
<circle cx="195.40" cy="267.20" r="2.7" fill="#1c0f22" stroke="#060606" stroke-width="1.35"/>
<circle cx="195.40" cy="270.00" r="2.7" fill="#1c0f22" stroke="#060606" stroke-width="1.35"/>
<circle cx="195.40" cy="259.50" r="2.7" fill="#1c0f22" stroke="#060606" stroke-width="1.35"/>
<circle cx="195.40" cy="273.30" r="2.7" fill="#1c0f22" stroke="#060606" stroke-width="1.35"/>
<line x1="416.80" y1="161.00" x2="416.80" y2="258.10" stroke="#2e2a2e" stroke-width="1.45"/>
<line x1="407.80" y1="161.00" x2="425.80" y2="161.00" stroke="#2e2a2e" stroke-width="1.45"/>
<line x1="407.80" y1="258.10" x2="425.80" y2="258.10" stroke="#2e2a2e" stroke-width="1.45"/>
<line x1="398.50" y1="209.50" x2="435.10" y2="209.50" stroke="#2e2a2e" stroke-width="1.6"/>
<line x1="472.70" y1="223.30" x2="472.70" y2="277.30" stroke="#2e2a2e" stroke-width="1.45"/>
<line x1="463.70" y1="223.30" x2="481.70" y2="223.30" stroke="#2e2a2e" stroke-width="1.45"/>
<line x1="463.70" y1="277.30" x2="481.70" y2="277.30" stroke="#2e2a2e" stroke-width="1.45"/>
<line x1="454.40" y1="250.80" x2="491.00" y2="250.80" stroke="#2e2a2e" stroke-width="1.6"/>
<circle cx="416.50" cy="103.20" r="3.0" fill="#36ade6" stroke="#2190cc" stroke-width="0.8"/>
<circle cx="401.80" cy="178.70" r="3.0" fill="#36ade6" stroke="#2190cc" stroke-width="0.8"/>
<circle cx="416.80" cy="177.90" r="3.0" fill="#36ade6" stroke="#2190cc" stroke-width="0.8"/>
<circle cx="431.70" cy="180.30" r="3.0" fill="#36ade6" stroke="#2190cc" stroke-width="0.8"/>
<circle cx="416.90" cy="209.40" r="3.0" fill="#36ade6" stroke="#2190cc" stroke-width="0.8"/>
<circle cx="417.00" cy="222.00" r="3.0" fill="#36ade6" stroke="#2190cc" stroke-width="0.8"/>
<circle cx="431.60" cy="221.40" r="3.0" fill="#36ade6" stroke="#2190cc" stroke-width="0.8"/>
<circle cx="409.30" cy="237.80" r="3.0" fill="#36ade6" stroke="#2190cc" stroke-width="0.8"/>
<circle cx="424.40" cy="236.70" r="3.0" fill="#36ade6" stroke="#2190cc" stroke-width="0.8"/>
<circle cx="417.00" cy="249.10" r="3.0" fill="#36ade6" stroke="#2190cc" stroke-width="0.8"/>
<circle cx="417.00" cy="287.40" r="3.0" fill="#36ade6" stroke="#2190cc" stroke-width="0.8"/>
<circle cx="467.50" cy="199.60" r="3.0" fill="#31b53a" stroke="#24982c" stroke-width="0.8"/>
<circle cx="477.80" cy="199.00" r="3.0" fill="#31b53a" stroke="#24982c" stroke-width="0.8"/>
<circle cx="472.70" cy="241.30" r="3.0" fill="#31b53a" stroke="#24982c" stroke-width="0.8"/>
<circle cx="457.60" cy="254.10" r="3.0" fill="#31b53a" stroke="#24982c" stroke-width="0.8"/>
<circle cx="467.50" cy="258.20" r="3.0" fill="#31b53a" stroke="#24982c" stroke-width="0.8"/>
<circle cx="477.80" cy="257.00" r="3.0" fill="#31b53a" stroke="#24982c" stroke-width="0.8"/>
<circle cx="487.70" cy="261.10" r="3.0" fill="#31b53a" stroke="#24982c" stroke-width="0.8"/>
<circle cx="467.50" cy="269.50" r="3.0" fill="#31b53a" stroke="#24982c" stroke-width="0.8"/>
<circle cx="477.80" cy="267.20" r="3.0" fill="#31b53a" stroke="#24982c" stroke-width="0.8"/>
<circle cx="487.70" cy="271.00" r="3.0" fill="#31b53a" stroke="#24982c" stroke-width="0.8"/>
<circle cx="472.70" cy="278.50" r="3.0" fill="#31b53a" stroke="#24982c" stroke-width="0.8"/>
<circle cx="360.60" cy="231.80" r="3.5" fill="#c8061f"/>
<circle cx="353.50" cy="242.40" r="3.5" fill="#c8061f"/>
<circle cx="358.00" cy="242.80" r="3.5" fill="#c8061f"/>
<circle cx="363.70" cy="241.50" r="3.5" fill="#c8061f"/>
<circle cx="368.10" cy="241.50" r="3.5" fill="#c8061f"/>
<circle cx="370.50" cy="245.00" r="3.5" fill="#c8061f"/>
<circle cx="350.50" cy="244.00" r="3.5" fill="#c8061f"/>
<circle cx="346.80" cy="247.50" r="3.5" fill="#c8061f"/>
<circle cx="345.90" cy="251.50" r="3.5" fill="#c8061f"/>
<circle cx="348.00" cy="254.00" r="3.5" fill="#c8061f"/>
<circle cx="350.50" cy="257.50" r="3.5" fill="#c8061f"/>
<circle cx="351.50" cy="261.00" r="3.5" fill="#c8061f"/>
<circle cx="353.00" cy="262.80" r="3.5" fill="#c8061f"/>
<circle cx="356.60" cy="262.80" r="3.5" fill="#c8061f"/>
<circle cx="360.00" cy="262.00" r="3.5" fill="#c8061f"/>
<circle cx="368.80" cy="265.90" r="3.5" fill="#c8061f"/>
<circle cx="370.50" cy="261.50" r="3.5" fill="#c8061f"/>
<circle cx="374.30" cy="248.50" r="3.5" fill="#c8061f"/>
<circle cx="375.20" cy="252.50" r="3.5" fill="#c8061f"/>
<circle cx="373.50" cy="256.50" r="3.5" fill="#c8061f"/>
<circle cx="371.50" cy="258.50" r="3.5" fill="#c8061f"/>
<circle cx="355.00" cy="246.50" r="3.5" fill="#c8061f"/>
<circle cx="366.50" cy="245.50" r="3.5" fill="#c8061f"/>
<circle cx="352.00" cy="250.50" r="3.5" fill="#c8061f"/>
<circle cx="357.00" cy="251.00" r="3.5" fill="#c8061f"/>
<circle cx="362.00" cy="251.00" r="3.5" fill="#c8061f"/>
<circle cx="367.00" cy="250.00" r="3.5" fill="#c8061f"/>
<circle cx="370.50" cy="253.00" r="3.5" fill="#c8061f"/>
<circle cx="366.50" cy="254.50" r="3.5" fill="#c8061f"/>
<circle cx="354.50" cy="257.50" r="3.5" fill="#c8061f"/>
<circle cx="360.50" cy="261.50" r="3.5" fill="#c8061f"/>
<circle cx="368.50" cy="259.00" r="3.5" fill="#c8061f"/>
<circle cx="364.50" cy="264.00" r="3.5" fill="#c8061f"/>
<circle cx="361.00" cy="256.50" r="3.5" fill="#c8061f"/>
<circle cx="360.50" cy="246.50" r="3.5" fill="#c8061f"/>
<circle cx="350.00" cy="252.50" r="3.5" fill="#c8061f"/>
<ellipse cx="362.80" cy="245.70" rx="1.2" ry="1.0" fill="#fff" opacity="0.9"/>
<ellipse cx="359.00" cy="247.60" rx="0.7" ry="0.7" fill="#fff" opacity="0.9"/>
<ellipse cx="350.40" cy="254.00" rx="0.8" ry="0.9" fill="#fff" opacity="0.9"/>
<ellipse cx="358.80" cy="255.70" rx="0.8" ry="0.8" fill="#fff" opacity="0.9"/>
<ellipse cx="364.60" cy="258.80" rx="1.6" ry="0.9" fill="#fff" opacity="0.9"/>
</svg>
</body></html>
